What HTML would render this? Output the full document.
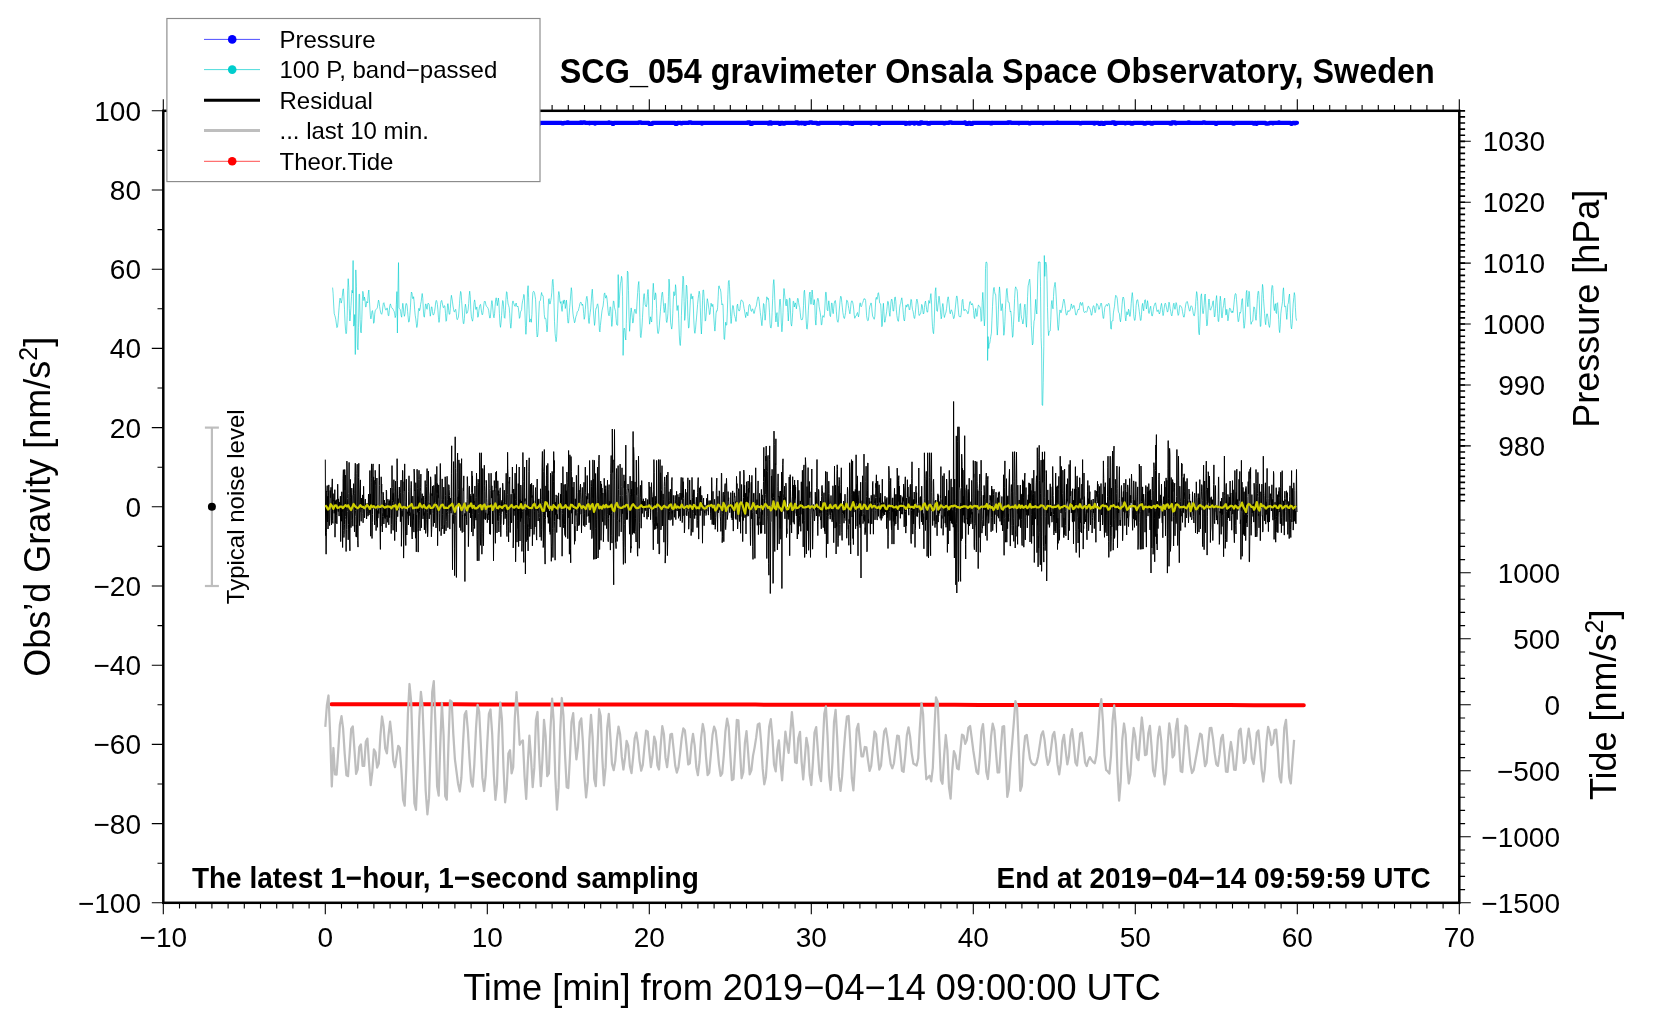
<!DOCTYPE html>
<html><head><meta charset="utf-8"><title>SCG_054 gravimeter Onsala Space Observatory, Sweden</title>
<style>
html,body{margin:0;padding:0;background:#fff;}
svg{display:block;will-change:transform;}
text{font-family:"Liberation Sans",sans-serif;fill:#000;}
.b{font-weight:bold;}
</style></head><body>
<svg width="1660" height="1020" viewBox="0 0 1660 1020">
<rect width="1660" height="1020" fill="#fff"/>
<polyline fill="none" stroke="#0000ff" stroke-width="4.2" stroke-linecap="round" stroke-linejoin="round" points="325.3,122.8 328.5,122.8 328.8,123.4 329.9,123.4 330.2,122.3 331.5,122.3 331.8,122.8 336.1,122.8 336.4,122.3 337.7,122.3 338,122.8 359.1,122.8 359.3,122.3 361.5,122.3 361.8,122.8 365.5,122.8 365.8,123.9 366.1,123.9 366.3,122.8 366.9,122.8 367.1,123.9 368.5,123.9 368.8,122.8 377.4,122.8 377.7,123.4 379,123.4 379.3,122.8 382.5,122.8 382.8,122.3 384.7,122.3 385,122.8 413.3,122.8 413.6,123.9 415.5,123.9 415.8,122.8 418.2,122.8 418.4,123.9 420.3,123.9 420.6,122.8 430.1,122.8 430.3,123.7 432.5,123.7 432.8,122.8 434.4,122.8 434.6,122.3 436,122.3 436.3,122.8 437.6,122.8 437.9,122.3 439.2,122.3 439.5,122.8 449.2,122.8 449.5,123.7 451.4,123.7 451.7,122.8 460.3,122.8 460.6,123.7 461.4,123.7 461.6,122.8 473.8,122.8 474.1,123.4 475.1,123.4 475.4,122.8 477.8,122.8 478.1,123.4 480,123.4 480.3,122.8 504.6,122.8 504.9,122.3 507,122.3 507.3,122.8 509.7,122.8 510,123.4 512.1,123.4 512.4,122.8 517.8,122.8 518.1,123.4 518.6,123.4 518.9,122.8 530.2,122.8 530.5,123.7 532.4,123.7 532.7,122.8 537.5,122.8 537.8,123.9 539.1,123.9 539.4,122.8 561.5,122.8 561.8,123.4 563.7,123.4 564,122.8 566.9,122.8 567.2,122.3 568.3,122.3 568.6,122.8 580.2,122.8 580.5,122.3 581.3,122.3 581.5,122.8 582.9,122.8 583.1,122.3 584.8,122.3 585,122.8 589.1,122.8 589.4,123.4 589.6,123.4 589.9,122.8 594.5,122.8 594.8,123.7 595.3,123.7 595.6,122.8 608.5,122.8 608.8,122.3 609.1,122.3 609.3,122.8 612.3,122.8 612.6,123.9 613.4,123.9 613.7,122.8 638.8,122.8 639,122.3 640.9,122.3 641.2,122.8 649,122.8 649.3,123.9 652.3,123.9 652.5,122.8 675.2,122.8 675.5,123.9 676.8,123.9 677.1,122.8 680.6,122.8 680.9,123.4 682.2,123.4 682.5,122.8 688.7,122.8 689,122.3 690.9,122.3 691.1,122.8 701.4,122.8 701.7,123.7 702.2,123.7 702.5,122.8 747.6,122.8 747.8,122.3 750,122.3 750.3,123.9 752.2,123.9 752.4,122.8 768.4,122.8 768.6,123.7 769.2,123.7 769.5,122.8 769.7,122.3 770.5,122.3 770.8,122.8 771.1,122.8 771.3,123.7 771.6,123.7 771.9,122.8 779.2,122.8 779.4,123.9 780.2,123.9 780.5,122.8 783,122.8 783.2,123.7 784.8,123.7 785.1,122.8 795.6,122.8 795.9,122.3 797.8,122.3 798.1,123.4 799.7,123.4 800,122.8 801.3,122.8 801.6,123.4 801.9,123.4 802.1,122.8 804.5,122.8 804.8,123.9 805.1,123.9 805.4,122.8 809.4,122.8 809.7,122.3 811.8,122.3 812.1,122.8 816.7,122.8 817,123.7 819.4,123.7 819.7,122.8 839.7,122.8 839.9,123.4 841.3,123.4 841.5,122.8 848.8,122.8 849.1,123.4 850.2,123.4 850.5,122.8 851.3,122.8 851.5,123.9 852.6,123.9 852.9,122.8 870.7,122.8 871,123.7 871.2,123.7 871.5,122.8 878.8,122.8 879.1,123.9 879.3,123.9 879.6,122.8 905.3,122.8 905.5,123.9 905.8,123.9 906.1,122.8 906.3,122.8 906.6,123.4 908.2,123.4 908.5,122.8 909.6,122.8 909.8,123.7 910.1,123.7 910.4,122.8 914.2,122.8 914.4,123.7 914.7,123.7 915,122.8 917.7,122.8 918,123.7 920.1,123.7 920.4,122.3 922,122.3 922.3,122.8 927.7,122.8 927.9,123.7 929.6,123.7 929.8,122.8 943.3,122.8 943.6,123.4 945,123.4 945.2,122.8 949,122.8 949.3,122.3 951.4,122.3 951.7,122.8 964.4,122.8 964.7,122.3 965.2,122.3 965.5,122.8 966,122.8 966.3,123.9 968.2,123.9 968.4,122.8 970.1,122.8 970.3,123.9 972.2,123.9 972.5,122.8 990,122.8 990.3,123.4 991.1,123.4 991.4,122.8 991.7,122.8 991.9,123.4 992.2,123.4 992.5,122.8 1007.6,122.8 1007.9,122.3 1008.4,122.3 1008.7,122.8 1008.9,122.8 1009.2,122.3 1010.6,122.3 1010.8,122.8 1018.4,122.8 1018.7,123.4 1019.2,123.4 1019.5,122.8 1028.6,122.8 1028.9,123.4 1030.5,123.4 1030.8,122.8 1042.4,122.8 1042.7,123.4 1043.5,123.4 1043.8,122.8 1057,122.8 1057.3,122.3 1057.5,122.3 1057.8,122.8 1079.4,122.8 1079.7,123.4 1081.3,123.4 1081.6,122.8 1093.7,122.8 1094,123.7 1094.3,123.7 1094.5,122.8 1098.6,122.8 1098.8,123.4 1099.1,123.9 1100.2,123.9 1100.5,122.8 1102.4,122.8 1102.6,123.9 1104.2,123.9 1104.5,122.8 1112.1,122.8 1112.3,122.3 1114.5,122.3 1114.8,123.9 1115.9,123.9 1116.1,122.8 1124.5,122.8 1124.8,123.4 1125.8,123.4 1126.1,122.8 1131,122.8 1131.2,123.7 1133.1,123.7 1133.4,122.8 1143.4,122.8 1143.7,123.7 1145.8,123.7 1146.1,122.8 1151,122.8 1151.2,123.7 1152.8,123.7 1153.1,122.8 1169.6,122.8 1169.9,123.7 1171.8,123.7 1172,122.3 1172.3,122.8 1172.8,122.8 1173.1,122.3 1175.3,122.3 1175.5,123.4 1176.3,123.4 1176.6,122.8 1187.9,122.8 1188.2,122.3 1189.3,122.3 1189.6,122.8 1203.1,122.8 1203.3,122.3 1204.7,122.3 1205,122.8 1215.5,122.8 1215.8,123.9 1216.6,123.9 1216.8,122.8 1232.5,122.8 1232.8,123.7 1234.4,123.7 1234.7,122.8 1253,122.8 1253.3,123.7 1254.6,123.7 1254.9,122.8 1255.7,122.8 1256,123.4 1256.3,123.9 1256.8,123.9 1257.1,123.4 1257.3,122.8 1265.4,122.8 1265.7,123.7 1267.6,123.7 1267.9,123.4 1269.5,123.4 1269.8,122.8 1272.2,122.8 1272.5,123.4 1273.3,123.4 1273.5,122.8 1278.4,122.8 1278.7,122.3 1279.2,122.3 1279.5,122.8 1290.3,122.8 1290.5,123.4 1290.8,123.4 1291.1,123.9 1291.9,123.9 1292.2,123.4 1292.7,123.4 1293,122.8 1294.3,122.8 1294.6,123.4 1295.4,123.4 1295.7,122.8 1297,122.8"/>
<polyline fill="none" stroke="#00cdcd" stroke-width="0.6" stroke-linejoin="round" points="332.6,287.6 333.1,293.2 333.7,305 334.2,313.4 334.8,315.5 335.3,317.1 335.8,319.7 336.4,324 336.9,327.6 337.5,326.9 338,322.1 338.5,315.2 339.1,307.4 339.6,300.3 340.1,298.1 340.7,300.3 341.2,303.1 341.8,300.5 342.3,296.2 342.9,290 343.4,288.8 343.9,296.9 344.5,309.3 345,321.9 345.6,330.7 346.1,333.7 346.6,331.6 347.2,315.4 347.7,290.8 348.2,278.7 348.8,287.7 349.3,308.4 349.9,321 350.4,315.2 351,305.6 351.5,296.3 352,290.3 352.6,293 353.1,260.5 353.6,326.1 354.2,325 354.7,314.5 355.3,354.5 355.8,269.9 356.4,286.6 356.9,323.6 357.4,347.5 358,349.8 358.5,327.3 359.1,294.1 359.6,294.3 360.1,319.3 360.7,332 361.2,332.9 361.8,319.7 362.3,301.4 362.8,291.3 363.4,294.2 363.9,300.6 364.4,297 365,299.5 365.5,306.8 366.1,306.9 366.6,301.6 367.1,301.9 367.7,302.9 368.2,294 368.8,290 369.3,298 369.9,308.1 370.4,315.9 370.9,318.9 371.5,315.7 372,311.3 372.5,310.6 373.1,314.9 373.6,323.3 374.2,322.1 374.7,314.2 375.2,310.8 375.8,309.7 376.3,309.2 376.9,308.5 377.4,307.5 377.9,303.9 378.5,300.1 379,301.7 379.6,306.4 380.1,309.7 380.6,312 381.2,313.8 381.7,314.3 382.3,312.2 382.8,307 383.4,303.2 383.9,302.7 384.4,304.8 385,307.8 385.5,309.7 386.1,310.2 386.6,309 387.1,307.9 387.7,310.4 388.2,315.4 388.8,315.8 389.3,310.4 389.8,305.7 390.4,303.9 390.9,305.5 391.4,307.6 392,308.3 392.5,308.3 393.1,309.3 393.6,310.5 394.1,311.2 394.7,313.9 395.2,317.6 395.8,315.4 396.3,304.4 396.9,291.6 397.4,333 397.9,295 398.5,262.6 399,307.7 399.5,308.7 400.1,309.3 400.6,311.4 401.2,315.8 401.7,317.2 402.2,309.7 402.8,303.3 403.3,306.9 403.9,313.6 404.4,316.3 405,313.8 405.5,307 406,303.4 406.6,303.8 407.1,305.8 407.6,311.4 408.2,317.9 408.7,322.2 409.3,321.2 409.8,315.5 410.4,307.9 410.9,298.4 411.4,292 412,293.1 412.5,298.3 413.1,298.8 413.6,296.7 414.1,301.4 414.7,309.8 415.2,315.2 415.8,319 416.3,323.7 416.8,327.5 417.4,325 417.9,317.3 418.4,310.5 419,308.2 419.5,310.8 420.1,308.7 420.6,304.5 421.2,301.5 421.7,297.1 422.2,293.5 422.8,298.3 423.3,308.9 423.8,316.1 424.4,317.2 424.9,311.2 425.5,304.1 426,303.9 426.6,308.3 427.1,309.3 427.6,305 428.2,303.1 428.7,303.9 429.2,304.6 429.8,311.7 430.3,316.2 430.9,312 431.4,307 431.9,306.8 432.5,311.6 433,314.9 433.6,314.8 434.1,313.7 434.6,311.3 435.2,307.1 435.7,302.2 436.3,300.4 436.8,301.4 437.4,304.5 437.9,309.8 438.4,317.2 439,322.4 439.5,319.6 440,310.4 440.6,304.2 441.1,301.1 441.7,300.4 442.2,302.5 442.8,305.8 443.3,307.7 443.8,307.5 444.4,305.6 444.9,306.5 445.5,313.5 446,321.3 446.5,320.6 447.1,312.8 447.6,303.9 448.1,303.6 448.7,310.2 449.2,314.3 449.8,314.1 450.3,308.7 450.9,299.5 451.4,295.3 451.9,298.1 452.5,301.9 453,306 453.6,309.4 454.1,311.8 454.6,311.8 455.2,310.2 455.7,309.3 456.3,313.3 456.8,318.7 457.3,319.7 457.9,318.3 458.4,317.1 458.9,312 459.5,303.7 460,296.6 460.6,291.4 461.1,292.9 461.6,300.4 462.2,309 462.7,317 463.3,323.4 463.8,323.8 464.4,318.7 464.9,308.5 465.4,304.2 466,307.5 466.5,313.4 467.1,313.2 467.6,311.9 468.1,309.8 468.7,303.5 469.2,295.6 469.7,291.2 470.3,296.7 470.8,309.5 471.4,316.9 471.9,319.1 472.5,321.2 473,318.8 473.5,310.2 474.1,302.6 474.6,299.9 475.1,302.5 475.7,309.3 476.2,309.4 476.8,306.9 477.3,311.4 477.8,317.3 478.4,316 478.9,310.5 479.5,306.8 480,304.8 480.6,304.4 481.1,308.3 481.6,312.5 482.2,314.9 482.7,314.3 483.2,310.6 483.8,305 484.3,301.6 484.9,301 485.4,302 485.9,304.9 486.5,306.4 487,306.9 487.6,307.4 488.1,308.5 488.7,310.7 489.2,314.7 489.7,318 490.3,317.8 490.8,312.1 491.4,304.2 491.9,300.6 492.4,303.3 493,310.9 493.5,316.4 494,317.8 494.6,313.7 495.1,306.2 495.7,299.5 496.2,297.8 496.8,301.6 497.3,305.7 497.8,302.1 498.4,298 498.9,302.5 499.4,313.7 500,324.4 500.5,327.3 501.1,322.2 501.6,315.6 502.1,306.7 502.7,300.5 503.2,301.7 503.8,309.7 504.3,317.5 504.9,318.3 505.4,310.5 505.9,299.6 506.5,291.7 507,292.5 507.6,299.6 508.1,304 508.6,305.4 509.2,307.6 509.7,313.6 510.2,322.4 510.8,328.2 511.3,324.3 511.9,312.9 512.4,303.1 513,300.9 513.5,302.9 514,304 514.6,305.9 515.1,306.4 515.6,304.3 516.2,303 516.7,306.1 517.3,306.8 517.8,306 518.3,307.7 518.9,312.8 519.4,318.4 520,317 520.5,311.9 521,311.1 521.6,309.7 522.1,304.1 522.7,300.5 523.2,298.8 523.8,294.4 524.3,295.6 524.8,309 525.4,325.3 525.9,334.3 526.4,327.4 527,309.4 527.5,290.9 528.1,285.7 528.6,297.5 529.2,313.3 529.7,322.1 530.2,319.6 530.8,319 531.3,322.3 531.9,314.6 532.4,300 532.9,292.5 533.5,291.4 534,291.5 534.5,292.8 535.1,296.3 535.6,299.5 536.2,314.1 536.7,331.7 537.2,337 537.8,335 538.3,327.1 538.9,311.9 539.4,301.5 540,300.8 540.5,300.2 541,295.7 541.6,292.5 542.1,295.4 542.6,295.2 543.2,296 543.7,304.5 544.3,314.7 544.8,318.8 545.4,318.3 545.9,318.6 546.4,324.8 547,331.9 547.5,328 548,311 548.6,299.1 549.1,298.6 549.7,303.9 550.2,303.9 550.8,300.4 551.3,297.4 551.8,292.2 552.4,281.2 552.9,279.3 553.5,287.3 554,302.7 554.5,321.7 555.1,333.5 555.6,338.2 556.1,341.7 556.7,336.7 557.2,323.8 557.8,308.9 558.3,295.6 558.8,291.5 559.4,294.3 559.9,301.4 560.5,303.3 561,301.5 561.5,308 562.1,311.4 562.6,305.3 563.2,300.6 563.7,303.6 564.2,299.9 564.8,301.4 565.3,308.5 565.9,305.1 566.4,300.1 566.9,305.1 567.5,317.5 568,323.1 568.6,322.8 569.1,315.3 569.7,307.3 570.2,301.8 570.7,295 571.3,287.7 571.8,291.3 572.3,304.9 572.9,313 573.4,316.9 574,319.9 574.5,322.8 575,321.7 575.6,318 576.1,316.1 576.7,314.8 577.2,311.8 577.8,311.4 578.3,310.8 578.8,308.5 579.4,306.4 579.9,303.8 580.5,302.4 581,302.2 581.5,303.5 582.1,305.4 582.6,304.1 583.1,306.3 583.7,313.6 584.2,319.3 584.8,316.8 585.3,309.7 585.8,303 586.4,297.8 586.9,296.3 587.5,300 588,309.3 588.5,320.1 589.1,323.5 589.6,317.6 590.2,312.5 590.7,308.8 591.2,302.2 591.8,293.2 592.3,289.2 592.9,298.9 593.4,311 594,319.1 594.5,325.4 595,321.9 595.6,310.8 596.1,308 596.6,308 597.2,304.7 597.7,303.8 598.3,307.1 598.8,317 599.4,330.3 599.9,331.9 600.4,325.5 601,319.8 601.5,315 602,310.8 602.6,308 603.1,306 603.7,300.4 604.2,293.9 604.8,292.9 605.3,296.8 605.8,298.2 606.4,295.5 606.9,297.8 607.5,304.1 608,310.2 608.5,314.5 609.1,315.8 609.6,312.4 610.1,306.8 610.7,307.3 611.2,316.5 611.8,326.4 612.3,322.4 612.8,308.4 613.4,300.9 613.9,301.6 614.5,307.6 615,309.3 615.5,311.4 616.1,318.6 616.6,324.5 617.2,325.3 617.7,325.2 618.2,274.6 618.8,307.6 619.3,300.5 619.9,291.2 620.4,283.8 621,281.1 621.5,276.3 622,278.6 622.6,296.7 623.1,355.4 623.7,330.5 624.2,328.1 624.7,329 625.3,337.2 625.8,340 626.3,323.5 626.9,295.1 627.4,271.1 628,272.4 628.5,290.6 629,316.2 629.6,331.3 630.1,323.6 630.7,312.1 631.2,307.9 631.8,312.8 632.3,317.6 632.8,323.1 633.4,320.9 633.9,313.7 634.5,310 635,309.1 635.5,311.7 636.1,313.6 636.6,310.1 637.1,301.2 637.7,292.4 638.2,285.3 638.8,281.5 639.3,292.5 639.9,317.3 640.4,335.6 640.9,337.6 641.5,332.1 642,326 642.5,317.3 643.1,306.5 643.6,296.5 644.2,293.6 644.7,299.1 645.2,304.6 645.8,306.3 646.3,306.9 646.9,303.9 647.4,294.7 648,289.5 648.5,296.8 649,315.4 649.6,324.2 650.1,320.7 650.6,316.8 651.2,320.6 651.7,322 652.3,310.3 652.8,291.1 653.3,283.3 653.9,292.7 654.4,299.8 655,298.5 655.5,292.8 656,295 656.6,308.4 657.1,324.6 657.7,332.9 658.2,333.6 658.8,331.1 659.3,325.9 659.8,318.8 660.4,311.4 660.9,304.6 661.5,297.3 662,292.9 662.5,292.1 663.1,298.9 663.6,306.4 664.2,312.5 664.7,310.3 665.2,303.3 665.8,310.6 666.3,320.6 666.8,322.5 667.4,319.2 667.9,313.6 668.5,296.3 669,279.1 669.5,285 670.1,307.5 670.6,322.2 671.2,326.5 671.7,329.1 672.2,325.7 672.8,313.3 673.3,299.9 673.9,291.7 674.4,295.6 675,295.1 675.5,284.7 676,288.7 676.6,304 677.1,310.5 677.7,305.8 678.2,305.4 678.7,318.2 679.3,335 679.8,343.4 680.3,345.5 680.9,335.6 681.4,315.4 682,298.7 682.5,286.9 683,276.1 683.6,279.1 684.1,301.6 684.7,320.4 685.2,316.4 685.8,300.1 686.3,285.1 686.8,286 687.4,299.4 687.9,316.6 688.5,328 689,327.7 689.5,317.9 690.1,305.9 690.6,296.8 691.1,293.7 691.7,298.7 692.2,298.9 692.8,296.2 693.3,305 693.8,320.1 694.4,330.9 694.9,333.3 695.5,329.3 696,322.9 696.5,317.9 697.1,310.8 697.6,304.3 698.2,298.6 698.7,294.4 699.2,291.2 699.8,294.2 700.3,307.7 700.9,325.9 701.4,334 702,321.6 702.5,300.8 703,290 703.6,290.1 704.1,297.7 704.7,311.2 705.2,321.1 705.7,320.3 706.3,312.9 706.8,303.6 707.3,298.7 707.9,301.7 708.4,305.1 709,309.6 709.5,314.6 710,314.1 710.6,307.6 711.1,303.2 711.7,306 712.2,306.6 712.8,304.3 713.3,307.9 713.8,317 714.4,326.2 714.9,331.1 715.4,325.2 716,313.6 716.5,310.9 717.1,311.1 717.6,307.8 718.2,296.6 718.7,286.2 719.2,285.8 719.8,288.7 720.3,288.9 720.9,292.1 721.4,299.3 721.9,304.9 722.5,303.8 723,304.9 723.5,321.1 724.1,338.9 724.6,339.5 725.2,328.6 725.7,322.2 726.2,325.2 726.8,324.9 727.3,313.1 727.9,294.2 728.4,282.2 729,280.4 729.5,286.4 730,299.8 730.6,316.3 731.1,323.5 731.6,318.4 732.2,310.3 732.7,305.5 733.3,305.8 733.8,310.2 734.3,314.3 734.9,316.5 735.4,318.4 736,321.5 736.5,316.2 737,305.9 737.6,304.1 738.1,308.4 738.7,310.5 739.2,311.1 739.8,309.9 740.3,305.5 740.8,301 741.4,299.8 741.9,300.7 742.5,301.2 743,301.5 743.5,304.8 744.1,308.5 744.6,311 745.2,314.8 745.7,317.6 746.2,314.3 746.8,312.1 747.3,314.4 747.8,315.8 748.4,310.8 748.9,305.7 749.5,304.4 750,305 750.5,307.7 751.1,311 751.6,311.4 752.2,309.2 752.7,308.9 753.2,310.7 753.8,313.4 754.3,313.3 754.9,309.8 755.4,307.7 755.9,307.2 756.5,304.8 757,301.4 757.6,298.2 758.1,296.8 758.7,298 759.2,301.6 759.7,306.8 760.3,312.6 760.8,316.4 761.4,322.1 761.9,325.7 762.4,320.2 763,311.1 763.5,303.5 764,304.5 764.6,313.5 765.1,320.2 765.7,314 766.2,303.6 766.8,296.8 767.3,298 767.8,299.4 768.4,298.4 768.9,302.5 769.5,312.8 770,323.3 770.5,327.5 771.1,328.1 771.6,324.2 772.1,312.6 772.7,298.4 773.2,285 773.8,279.6 774.3,285.9 774.8,300.2 775.4,315.2 775.9,321.9 776.5,315.2 777,312.6 777.5,322.5 778.1,326.8 778.6,321.8 779.2,309.9 779.7,300 780.2,299.1 780.8,307.1 781.3,322.9 781.9,331.8 782.4,326.2 783,312.7 783.5,296.1 784,288.5 784.6,293.9 785.1,298.8 785.7,304.2 786.2,305.9 786.7,299.2 787.3,300.4 787.8,312.5 788.3,321 788.9,310.9 789.4,298.2 790,298.4 790.5,310.9 791,323.7 791.6,326.1 792.1,321.4 792.7,312.4 793.2,301.2 793.8,301.6 794.3,307 794.8,304.4 795.4,302.9 795.9,305.8 796.4,308.8 797,304 797.5,298.5 798.1,298.5 798.6,302.5 799.2,306.1 799.7,307.5 800.2,312.3 800.8,318.2 801.3,319.9 801.9,319.4 802.4,319.5 802.9,316.9 803.5,305.7 804,292.1 804.5,290.2 805.1,298.1 805.6,309 806.2,320.6 806.7,328.6 807.2,329.2 807.8,322.1 808.3,310.8 808.9,302.1 809.4,294.2 810,292 810.5,299.6 811,304.3 811.6,297.8 812.1,290 812.6,294.3 813.2,304.3 813.7,305 814.3,299.6 814.8,304.5 815.3,319.7 815.9,325.1 816.4,315.6 817,302.4 817.5,298.7 818,298.2 818.6,301.1 819.1,306.4 819.7,309.9 820.2,312.5 820.8,317.3 821.3,324.9 821.8,324.7 822.4,318.4 822.9,315.6 823.5,316.8 824,317.3 824.5,313.8 825.1,303 825.6,292.3 826.2,292.3 826.7,301.2 827.2,309.6 827.8,310.8 828.3,305 828.8,300.8 829.4,305.8 829.9,315.3 830.5,316.6 831,310.8 831.5,303.1 832.1,303.2 832.6,310.9 833.2,313.7 833.7,308.3 834.2,303.4 834.8,301 835.3,300.5 835.9,304.3 836.4,311.8 836.9,318.6 837.5,321.7 838,322.3 838.6,319.3 839.1,312.1 839.7,305.1 840.2,299.3 840.7,296.2 841.3,297.1 841.8,302.5 842.4,307.9 842.9,312.5 843.4,315.5 844,318.3 844.5,318.4 845,315.7 845.6,312.4 846.1,306 846.7,300.2 847.2,300.5 847.8,302.1 848.3,305.5 848.8,308.4 849.4,311.5 849.9,313.8 850.5,309.4 851,303.5 851.5,301.1 852.1,300.8 852.6,301.9 853.2,304.9 853.7,309 854.2,314.9 854.8,318.3 855.3,316.9 855.8,315.8 856.4,315.6 856.9,313.7 857.5,312.5 858,315 858.5,316.9 859.1,313.3 859.6,305 860.2,302.8 860.7,306 861.2,306.8 861.8,305.5 862.3,303.2 862.9,302.3 863.4,300.5 864,298.6 864.5,299 865,298.8 865.6,300.5 866.1,307.9 866.6,315.8 867.2,319.4 867.7,320.7 868.3,320.4 868.8,316.3 869.3,309.8 869.9,305.9 870.4,305 871,302.9 871.5,304.2 872,311 872.6,316 873.1,317 873.7,318.4 874.2,319.3 874.8,316.7 875.3,307.9 875.8,298.8 876.4,297.3 876.9,299.4 877.5,297.7 878,293.3 878.5,292.7 879.1,296.7 879.6,303 880.2,303.6 880.7,304 881.2,313.5 881.8,326.7 882.3,325.5 882.8,310.9 883.4,303.3 883.9,311.6 884.5,322 885,322.3 885.5,318.6 886.1,315.1 886.6,311.8 887.2,306.3 887.7,301.4 888.2,301.6 888.8,305.8 889.3,312.6 889.9,316.3 890.4,310.6 891,301.8 891.5,299.1 892,299.7 892.6,304.9 893.1,311.1 893.7,310.9 894.2,304.6 894.7,297.7 895.3,296.9 895.8,301.4 896.3,309.2 896.9,315.6 897.4,318.8 898,321.2 898.5,321.2 899,315.5 899.6,308.1 900.1,304.7 900.7,303.4 901.2,300.2 901.8,297.8 902.3,301.2 902.8,307.3 903.4,314.7 903.9,319.7 904.5,321 905,316.8 905.5,307.7 906.1,304.9 906.6,307.2 907.1,306.3 907.7,304.3 908.2,304.3 908.8,307.2 909.3,310 909.8,309.5 910.4,305 910.9,299.3 911.5,299.8 912,305.7 912.5,309.6 913.1,311.4 913.6,314.8 914.2,318.2 914.7,318.5 915.2,314.5 915.8,307.7 916.3,301.7 916.9,299.1 917.4,300.7 918,304.7 918.5,310.6 919,315.5 919.6,315.2 920.1,313.9 920.7,313.5 921.2,309.3 921.7,304.4 922.3,305.6 922.8,310.4 923.3,314 923.9,313.1 924.4,307.5 925,302.6 925.5,301.1 926,304.4 926.6,309.4 927.1,312.2 927.7,312 928.2,306.9 928.8,300.5 929.3,301.6 929.8,303.3 930.4,297 930.9,293.6 931.5,302.1 932,317.4 932.5,326.5 933.1,332.2 933.6,333.7 934.2,323.6 934.7,306.9 935.2,291.5 935.8,287.7 936.3,298.4 936.8,310.7 937.4,311.4 937.9,306 938.5,300.8 939,296.2 939.5,299.1 940.1,306.1 940.6,312.9 941.2,318.8 941.7,316.7 942.2,307.7 942.8,303.5 943.3,306.4 943.9,314.5 944.4,317.5 945,315.1 945.5,313.6 946,312.1 946.6,308.3 947.1,303.4 947.6,298.6 948.2,296.8 948.7,299.7 949.3,306 949.8,312.1 950.3,313.8 950.9,310.9 951.4,309.8 952,311.3 952.5,313 953,315.8 953.6,318.7 954.1,318.1 954.7,314.2 955.2,309.2 955.8,303 956.3,297.8 956.8,295.9 957.4,298.2 957.9,304.8 958.5,312.2 959,316.2 959.5,316.7 960.1,316.5 960.6,317.1 961.1,314.4 961.7,307.1 962.2,300.3 962.8,299.3 963.3,304.6 963.8,310.5 964.4,310.6 964.9,309.2 965.5,309.8 966,310 966.5,311 967.1,311.7 967.6,313.6 968.2,313.5 968.7,310.7 969.2,306 969.8,301.8 970.3,301.4 970.9,303.3 971.4,305 972,303.5 972.5,303.8 973,305.9 973.6,310.4 974.1,317.1 974.7,318.6 975.2,312.1 975.7,308.5 976.3,312.5 976.8,316.5 977.3,314.7 977.9,307.8 978.4,305.1 979,305.6 979.5,306.3 980,307 980.6,310.1 981.1,321.4 981.7,320.7 982.2,302.5 982.8,292.4 983.3,301 983.8,316.2 984.4,325.9 984.9,318.7 985.5,268.6 986,262 986.5,262 987.1,263.7 987.6,360.5 988.1,336.6 988.7,348.5 989.2,344.1 989.8,343.2 990.3,339.5 990.8,336.4 991.4,333.2 991.9,320.7 992.5,306.4 993,296.2 993.5,289 994.1,287.4 994.6,291.6 995.2,294.3 995.7,294.4 996.2,305.3 996.8,326.1 997.3,335.1 997.9,325.7 998.4,309.8 999,293.5 999.5,286.9 1000,293.2 1000.6,304 1001.1,310.7 1001.6,308.1 1002.2,303.7 1002.7,308.8 1003.3,324.1 1003.8,335.3 1004.3,332.3 1004.9,321.7 1005.4,309.4 1006,298.4 1006.5,289.8 1007,288.4 1007.6,295.9 1008.1,302.1 1008.7,302.1 1009.2,302.8 1009.8,309 1010.3,312 1010.8,311.2 1011.4,316.8 1011.9,327.3 1012.5,337.3 1013,335.8 1013.5,324.2 1014.1,311.5 1014.6,298.4 1015.2,288.8 1015.7,286.8 1016.2,288.3 1016.8,289.1 1017.3,291.5 1017.8,302.8 1018.4,316.1 1018.9,321.8 1019.5,315.8 1020,304.2 1020.5,303.6 1021.1,314.3 1021.6,318.5 1022.2,320.2 1022.7,324 1023.2,323.4 1023.8,316.9 1024.3,307.4 1024.9,304.2 1025.4,309.8 1026,323.1 1026.5,327.2 1027,315.3 1027.6,296.3 1028.1,285.9 1028.6,283.9 1029.2,280.8 1029.7,279.2 1030.3,288 1030.8,307.2 1031.3,325.3 1031.9,337.1 1032.4,345 1033,343.3 1033.5,329.9 1034,321.3 1034.6,319 1035.1,308.9 1035.7,299.4 1036.2,309.4 1036.8,314 1037.3,297.2 1037.8,273.9 1038.4,262 1038.9,262 1039.5,262 1040,262 1040.5,286.7 1041.1,337.6 1041.6,350 1042.1,405 1042.7,405.5 1043.2,382.4 1043.8,346.7 1044.3,255.5 1044.8,276.4 1045.4,262.7 1045.9,262 1046.5,264.9 1047,280.6 1047.5,307.4 1048.1,328.8 1048.6,335.6 1049.2,331.4 1049.7,331.3 1050.2,330.9 1050.8,319.3 1051.3,304.7 1051.9,300.5 1052.4,306.1 1053,308.8 1053.5,296.4 1054,288.5 1054.6,284.7 1055.1,282.4 1055.7,287.9 1056.2,296.9 1056.7,306.4 1057.3,316.9 1057.8,327 1058.3,330.4 1058.9,324.6 1059.4,315 1060,309.9 1060.5,311.6 1061,312.8 1061.6,311.1 1062.1,308.6 1062.7,305.1 1063.2,301.6 1063.8,299.1 1064.3,300.3 1064.8,303.8 1065.4,308.5 1065.9,313 1066.5,315.2 1067,314.6 1067.5,311.7 1068.1,310.5 1068.6,311.7 1069.1,311.2 1069.7,310.9 1070.2,310 1070.8,307.1 1071.3,303.9 1071.8,305.3 1072.4,308.5 1072.9,307.9 1073.5,305.7 1074,305.3 1074.5,307.3 1075.1,310.9 1075.6,314.7 1076.2,315.1 1076.7,313.8 1077.2,312.3 1077.8,309.9 1078.3,309.1 1078.9,309.9 1079.4,307.5 1080,303.5 1080.5,302.3 1081,304.3 1081.6,305.4 1082.1,303.1 1082.6,302.5 1083.2,306.9 1083.7,311.2 1084.3,312.4 1084.8,312.5 1085.3,311.6 1085.9,311.7 1086.4,312.3 1087,311.4 1087.5,309.2 1088,306.4 1088.6,306.3 1089.1,307.8 1089.7,308.1 1090.2,309.5 1090.8,312.4 1091.3,315.2 1091.8,315.1 1092.4,310.8 1092.9,307.2 1093.5,305.7 1094,306.1 1094.5,309.5 1095.1,312.7 1095.6,311.5 1096.2,306.6 1096.7,303.5 1097.2,304.1 1097.8,305.1 1098.3,307.1 1098.8,309.5 1099.4,309.1 1099.9,306.8 1100.5,304.8 1101,303 1101.5,303.7 1102.1,308.1 1102.6,313.9 1103.2,318.3 1103.7,318.4 1104.2,312.8 1104.8,307.5 1105.3,306.1 1105.9,305.7 1106.4,304.5 1107,305.7 1107.5,306 1108,304.1 1108.6,303.3 1109.1,303.8 1109.6,306.9 1110.2,316.3 1110.7,328.1 1111.3,329.2 1111.8,321.4 1112.3,320.9 1112.9,321 1113.4,312.9 1114,309.1 1114.5,306.3 1115,300.3 1115.6,295.5 1116.1,295.5 1116.7,296.7 1117.2,298.3 1117.8,305 1118.3,311.1 1118.8,312.6 1119.4,313.7 1119.9,319.2 1120.5,321.8 1121,317.8 1121.5,312.1 1122.1,304.4 1122.6,298.7 1123.1,297 1123.7,297.9 1124.2,301 1124.8,309.3 1125.3,317.7 1125.8,320.9 1126.4,315.8 1126.9,311.7 1127.5,314.5 1128,314.5 1128.5,309.2 1129.1,311 1129.6,316.2 1130.2,316.3 1130.7,311.1 1131.2,303.5 1131.8,296.2 1132.3,292.6 1132.9,298.3 1133.4,308.8 1133.9,316.8 1134.5,320.3 1135,320.3 1135.6,314.8 1136.1,305.7 1136.7,301 1137.2,299.9 1137.7,299.7 1138.3,303.7 1138.8,307.6 1139.3,311.3 1139.9,316 1140.4,320.3 1141,320.4 1141.5,314.3 1142,306.1 1142.6,303.4 1143.1,308.3 1143.7,310.8 1144.2,304.5 1144.8,300.1 1145.3,299.7 1145.8,303.7 1146.4,308.9 1146.9,306.2 1147.5,300.7 1148,303.5 1148.5,312.3 1149.1,313.5 1149.6,310.8 1150.1,308 1150.7,306.2 1151.2,311.1 1151.8,315.6 1152.3,316.1 1152.8,313.7 1153.4,309.3 1153.9,306.4 1154.5,304.8 1155,303.4 1155.5,302.8 1156.1,306 1156.6,309.8 1157.2,311.6 1157.7,310.4 1158.2,309.8 1158.8,312 1159.3,314 1159.9,312.9 1160.4,309.5 1161,305.5 1161.5,303.4 1162,306.4 1162.6,312.4 1163.1,315.6 1163.6,313.4 1164.2,308.3 1164.7,304.4 1165.3,303.2 1165.8,304.5 1166.3,307.1 1166.9,309.7 1167.4,312.1 1168,311.1 1168.5,305.9 1169,302.2 1169.6,304.3 1170.1,308.3 1170.7,311.3 1171.2,314.4 1171.8,315.9 1172.3,313.7 1172.8,309.6 1173.4,304.6 1173.9,303.2 1174.4,306.9 1175,309.3 1175.5,306.3 1176.1,302.6 1176.6,303.7 1177.2,308.5 1177.7,313 1178.2,315.4 1178.8,314.1 1179.3,308.9 1179.8,305.4 1180.4,305.7 1180.9,306.3 1181.5,307 1182,308.6 1182.5,311.7 1183.1,314.9 1183.6,317 1184.2,317.1 1184.7,313.7 1185.2,308.3 1185.8,304.2 1186.3,302.4 1186.9,301.5 1187.4,301.7 1187.9,304 1188.5,306.8 1189,309.1 1189.6,311.2 1190.1,310.5 1190.6,306.9 1191.2,305.7 1191.7,306.2 1192.3,307.7 1192.8,310.4 1193.3,313.8 1193.9,315.8 1194.4,315.7 1195,311.8 1195.5,306.6 1196,298.4 1196.6,291.6 1197.1,293.7 1197.7,301.4 1198.2,315.7 1198.7,332 1199.3,334.8 1199.8,326.3 1200.4,311 1200.9,296.2 1201.5,293.8 1202,302 1202.5,310.8 1203.1,313.7 1203.6,310.7 1204.1,305.6 1204.7,295.7 1205.2,294 1205.8,304.6 1206.3,318.1 1206.8,325.9 1207.4,324.5 1207.9,314.1 1208.5,302.6 1209,299 1209.5,304.2 1210.1,309.7 1210.6,310.2 1211.2,308.4 1211.7,307.2 1212.2,305.7 1212.8,301.7 1213.3,300.8 1213.9,309 1214.4,317 1214.9,316.3 1215.5,308.4 1216,300 1216.6,295.6 1217.1,302.2 1217.7,313.7 1218.2,321.3 1218.7,321.6 1219.3,313.2 1219.8,301.9 1220.3,296.2 1220.9,301.5 1221.4,314 1222,317.9 1222.5,314.5 1223,308.3 1223.6,305.3 1224.1,300.4 1224.7,298.1 1225.2,305.7 1225.8,315.1 1226.3,314.5 1226.8,309.3 1227.4,314.7 1227.9,320.8 1228.4,318.2 1229,311.7 1229.5,308.3 1230.1,308.3 1230.6,308.9 1231.1,312 1231.7,312.6 1232.2,310.9 1232.8,312.7 1233.3,310.7 1233.9,304.2 1234.4,299.2 1234.9,295 1235.5,293.5 1236,294 1236.5,299.5 1237.1,307 1237.6,315.9 1238.2,321.8 1238.7,321.3 1239.2,317 1239.8,312.4 1240.3,313.2 1240.9,311.5 1241.4,305.1 1242,298.9 1242.5,298.7 1243,309.3 1243.6,323.5 1244.1,328.3 1244.6,325.5 1245.2,317.9 1245.7,304.9 1246.3,292.2 1246.8,290.4 1247.3,301.8 1247.9,306.7 1248.4,299.2 1249,291.3 1249.5,293.4 1250,307.4 1250.6,320.5 1251.1,324.3 1251.7,322 1252.2,321.4 1252.8,321.1 1253.3,312.9 1253.8,306.9 1254.4,307.3 1254.9,309.6 1255.4,316.2 1256,320.3 1256.5,314.5 1257.1,303.7 1257.6,295.3 1258.2,291.2 1258.7,291.5 1259.2,299.7 1259.8,315.3 1260.3,326.5 1260.8,326.2 1261.4,313 1261.9,294.6 1262.5,284.4 1263,287.8 1263.5,298.5 1264.1,306.9 1264.6,313.5 1265.2,321.9 1265.7,324.7 1266.2,318.1 1266.8,313.9 1267.3,313.9 1267.9,317.2 1268.4,321.9 1268.9,325.5 1269.5,327.4 1270,324 1270.6,314 1271.1,300 1271.6,289 1272.2,285.4 1272.7,286.1 1273.3,295.7 1273.8,306.9 1274.4,310.6 1274.9,305.7 1275.4,303.7 1276,312.8 1276.5,313.5 1277,303.3 1277.6,302.7 1278.1,310.6 1278.7,319.4 1279.2,329.7 1279.7,332.6 1280.3,324.8 1280.8,313.9 1281.4,308.8 1281.9,305.8 1282.5,301.6 1283,291.4 1283.5,287.8 1284.1,298 1284.6,306.7 1285.1,306.5 1285.7,305.9 1286.2,312.9 1286.8,319.4 1287.3,312.6 1287.8,304.4 1288.4,302.9 1288.9,297.1 1289.5,294 1290,304.2 1290.5,318.3 1291.1,327.3 1291.6,328.9 1292.2,323.3 1292.7,312.7 1293.2,303.8 1293.8,297.5 1294.3,292.6 1294.9,295.7 1295.4,307.6 1295.9,317.4 1296.5,320.3 1297,320.1"/>
<polyline fill="none" stroke="#ff0000" stroke-width="4.0" stroke-linecap="round" stroke-linejoin="round" points="331.5,704.2 356.4,704.2 381.3,704.3 406.3,704.3 431.2,704.3 456.1,704.3 481,704.4 506,704.4 530.9,704.4 555.8,704.4 580.8,704.5 605.7,704.5 630.6,704.5 655.6,704.5 680.5,704.6 705.4,704.6 730.4,704.6 755.3,704.6 780.2,704.7 805.2,704.7 830.1,704.7 855,704.7 879.9,704.8 904.9,704.8 929.8,704.8 954.7,704.8 979.7,704.9 1004.6,704.9 1029.5,704.9 1054.5,705 1079.4,705 1104.3,705 1129.3,705 1154.2,705.1 1179.1,705.1 1204.1,705.1 1229,705.1 1253.9,705.2 1278.8,705.2 1303.8,705.2"/>
<polyline fill="none" stroke="#bebebe" stroke-width="2.25" stroke-linejoin="round" points="325.3,726.9 326.9,705.2 328.5,695.5 330.2,735.3 331.8,786.5 333.4,748 335,774.5 336.6,774.6 338.3,750.1 339.9,724.6 341.5,716.2 343.1,728.5 344.7,753.6 346.4,775.2 348,776.1 349.6,753.8 351.2,728.8 352.8,726.5 354.5,750.4 356.1,774 357.7,769.3 359.3,747.1 360.9,744.4 362.6,765.8 364.2,765.9 365.8,741.7 367.4,738.6 369,762.8 370.7,785.2 372.3,771.8 373.9,749.4 375.5,752.2 377.1,767.6 378.8,763.5 380.4,735.8 382,716.5 383.6,726.1 385.2,748.3 386.9,753.4 388.5,735.3 390.1,721.6 391.7,736 393.3,760.7 395,767.2 396.6,756.3 398.2,745.8 399.8,747.9 401.4,769.9 403.1,799.6 404.7,805.6 406.3,767.7 407.9,713.8 409.5,684 411.2,702.2 412.8,755.4 414.4,803.3 416,809.8 417.6,771 419.3,718.5 420.9,691.9 422.5,706.1 424.1,747.1 425.7,791 427.4,814.4 429,798.4 430.6,746 432.2,692.1 433.8,681.1 435.5,726.3 437.1,786.2 438.7,795.6 440.3,743.9 441.9,703 443.6,735.3 445.2,796 446.8,799.7 448.4,746.2 450,700.3 451.7,701.7 453.3,733.9 454.9,759.2 456.5,771.7 458.1,784 459.8,791.4 461.4,777.5 463,743.8 464.6,714.7 466.2,711.1 467.9,730.6 469.5,758.5 471.1,781.7 472.7,786.6 474.3,764.8 476,728.4 477.6,704.8 479.2,711.8 480.8,743.8 482.4,777.9 484.1,791 485.7,775.3 487.3,742.9 488.9,713.8 490.5,709.5 492.2,734.2 493.8,773.9 495.4,799.8 497,784.3 498.6,735.8 500.3,702.5 501.9,719 503.5,767.9 505.1,802.3 506.7,788.5 508.4,753.4 510,750.2 511.6,773.4 513.2,767.1 514.8,718.6 516.5,692.1 518.1,716.3 519.7,744.8 521.3,741.8 522.9,740.4 524.6,777 526.2,799 527.8,763.9 529.4,735.7 531,756.8 532.7,787.2 534.3,767.9 535.9,720.1 537.5,712 539.1,753.5 540.8,786.1 542.4,760.1 544,719.8 545.6,735.6 547.2,776.1 548.9,773.4 550.5,728.5 552.1,698.6 553.7,721.5 555.3,776.7 557,809.7 558.6,787.4 560.2,731.5 561.8,698 563.4,715 565.1,756.3 566.7,787.2 568.3,788 569.9,758.1 571.5,721.9 573.2,713.2 574.8,738.5 576.4,759.3 578,746.8 579.6,722.2 581.3,718.4 582.9,742 584.5,776.8 586.1,797.5 587.7,781.9 589.4,739.6 591,714.8 592.6,736.9 594.2,778.7 595.8,786.2 597.5,747.6 599.1,709.2 600.7,715.9 602.3,757.8 603.9,785.3 605.6,767.4 607.2,728 608.8,713.8 610.4,737.6 612,763.9 613.7,770.2 615.3,760.8 616.9,740.2 618.5,726.6 620.1,734.3 621.8,756.9 623.4,769.5 625,757.9 626.6,740.9 628.2,745.5 629.9,766.3 631.5,773.1 633.1,757.7 634.7,738.4 636.3,732.6 638,743.6 639.6,761.1 641.2,770.7 642.8,765 644.4,747.2 646.1,730.6 647.7,731.7 649.3,751.5 650.9,767.1 652.5,756.5 654.2,736.6 655.8,742 657.4,765.3 659,769.5 660.6,746.4 662.3,726.2 663.9,733.9 665.5,757.7 667.1,767.2 668.7,752.8 670.4,734.6 672,733.8 673.6,749 675.2,765.5 676.8,772.6 678.5,767.2 680.1,753.3 681.7,738.2 683.3,728.4 684.9,730.5 686.6,746.8 688.2,764.5 689.8,763.4 691.4,744.8 693,733.8 694.7,745.7 696.3,767.2 697.9,775.2 699.5,761.5 701.1,737.8 702.8,724 704.4,732.5 706,756.6 707.6,775.2 709.2,772.9 710.9,754.2 712.5,735 714.1,726.6 715.7,731 717.3,745.8 719,764.6 720.6,775.9 722.2,773.5 723.8,755.4 725.4,731.5 727.1,718.6 728.7,727 730.3,754.4 731.9,780.1 733.5,779 735.2,749.6 736.8,720 738.4,720.4 740,750.8 741.6,778.3 743.3,772.2 744.9,742.9 746.5,731.1 748.1,752 749.7,774.3 751.4,770 753,755.9 754.6,747.6 756.2,737.4 757.8,724.5 759.5,723.5 761.1,742 762.7,768.9 764.3,784.3 765.9,776.9 767.6,751.9 769.2,726.7 770.8,719.2 772.4,736.6 774,764.5 775.7,771.3 777.3,750 778.9,740.3 780.5,763.8 782.1,780.3 783.8,754.8 785.4,731.7 787,742.9 788.6,752.8 790.2,733.9 791.9,712.1 793.5,729.7 795.1,762.3 796.7,763.1 798.3,738.2 800,731.8 801.6,761.6 803.2,779.5 804.8,759 806.4,737.8 808.1,746.9 809.7,775 811.3,785 812.9,762.4 814.5,732.6 816.2,727.1 817.8,749.3 819.4,773.5 821,781.1 822.6,749.3 824.3,713.8 825.9,706.4 827.5,735.2 829.1,775.6 830.7,789.9 832.4,763.1 834,722.2 835.6,709.8 837.2,737.8 838.8,776.4 840.5,790.9 842.1,776.5 843.7,752.4 845.3,731.8 846.9,716.5 848.6,716 850.2,741.6 851.8,778 853.4,790.4 855,764.5 856.7,729.1 858.3,723.9 859.9,741.4 861.5,756.3 863.1,756.4 864.8,747 866.4,747.4 868,760.3 869.6,770.8 871.2,766 872.9,747.6 874.5,731.5 876.1,734.3 877.7,753.9 879.3,769.6 881,765.6 882.6,747.2 884.2,731.3 885.8,728.5 887.4,738.1 889.1,752.6 890.7,764.1 892.3,768.3 893.9,763.5 895.5,749.8 897.2,735.7 898.8,736 900.4,753.1 902,770.8 903.6,771.8 905.3,755.1 906.9,735 908.5,727.3 910.1,736.6 911.7,753.1 913.4,763.5 915,764.5 916.6,765.5 918.2,758.2 919.8,728.7 921.5,703 923.1,714.2 924.7,753.4 926.3,779.3 927.9,777.7 929.6,775.8 931.2,781.3 932.8,768.2 934.4,730 936,697.4 937.7,701.7 939.3,740.6 940.9,779.8 942.5,783.8 944.1,756 945.8,735 947.4,750.2 949,787.1 950.6,798.7 952.2,771.1 953.9,751.2 955.5,755.4 957.1,768.3 958.7,769.4 960.3,751.6 962,734.7 963.6,735.8 965.2,743.8 966.8,740.1 968.4,727.7 970.1,726 971.7,737.8 973.3,750.5 974.9,761.2 976.5,771.9 978.2,774 979.8,756.6 981.4,731.3 983,724.1 984.6,744.2 986.3,771.7 987.9,779 989.5,761.2 991.1,736.3 992.7,723.7 994.4,730.4 996,751.9 997.6,772.5 999.2,772.3 1000.8,749 1002.5,726.8 1004.1,726.1 1005.7,760.1 1007.3,796.9 1008.9,788.8 1010.6,762.1 1012.2,742.7 1013.8,722.6 1015.4,701.2 1017,705.8 1018.7,746.9 1020.3,790.8 1021.9,785.6 1023.5,753.1 1025.1,736.2 1026.8,734.9 1028.4,747.2 1030,758.8 1031.6,763.1 1033.2,764.4 1034.9,765.1 1036.5,762.9 1038.1,756.2 1039.7,745.6 1041.3,734.9 1043,731.3 1044.6,740.1 1046.2,755.7 1047.8,764.8 1049.4,761 1051.1,748.3 1052.7,735.3 1054.3,732 1055.9,744.3 1057.5,764.4 1059.2,774.3 1060.8,762.8 1062.4,741.3 1064,734.8 1065.6,750 1067.3,764.4 1068.9,756.6 1070.5,736.3 1072.1,729.2 1073.7,743.4 1075.4,762.4 1077,765.6 1078.6,750.4 1080.2,733.6 1081.8,732.6 1083.5,747.2 1085.1,762.6 1086.7,766.1 1088.3,760.4 1089.9,757.1 1091.6,760.1 1093.2,762.1 1094.8,763.2 1096.4,755.1 1098,735.5 1099.7,709.8 1101.3,699.2 1102.9,721.1 1104.5,755.3 1106.1,769.9 1107.8,771.5 1109.4,773.5 1111,755.7 1112.6,720.7 1114.2,705.3 1115.9,727.8 1117.5,772 1119.1,800.7 1120.7,781.7 1122.3,739.4 1124,723.5 1125.6,734.4 1127.2,764.1 1128.8,783.5 1130.4,774.6 1132.1,746.6 1133.7,728 1135.3,736.7 1136.9,757.6 1138.5,760.1 1140.2,736.9 1141.8,717.5 1143.4,731.8 1145,755.2 1146.6,754.5 1148.3,733.5 1149.9,725.8 1151.5,745.9 1153.1,770.7 1154.7,776.3 1156.4,759.9 1158,736.6 1159.6,726.7 1161.2,740.3 1162.8,767.6 1164.5,784.5 1166.1,774 1167.7,743.6 1169.3,723.4 1170.9,734.7 1172.6,757.5 1174.2,755 1175.8,728.6 1177.4,718.8 1179,743.2 1180.7,771.2 1182.3,772 1183.9,747.7 1185.5,725.7 1187.1,727.8 1188.8,747.3 1190.4,764.6 1192,773 1193.6,770.3 1195.2,761.5 1196.9,752.3 1198.5,742.8 1200.1,733.6 1201.7,734.8 1203.3,751 1205,766.2 1206.6,762.7 1208.2,743.6 1209.8,728.1 1211.4,727.9 1213.1,739.4 1214.7,753.6 1216.3,764.2 1217.9,765.9 1219.5,754.7 1221.2,738.2 1222.8,734.8 1224.4,751.5 1226,771.7 1227.6,771.9 1229.3,753.5 1230.9,742 1232.5,752.3 1234.1,769.6 1235.7,769.9 1237.4,750.7 1239,730.9 1240.6,728.7 1242.2,745.8 1243.8,763 1245.5,759.8 1247.1,740.2 1248.7,728.7 1250.3,739.4 1251.9,758.4 1253.6,764 1255.2,750.5 1256.8,732.6 1258.4,730.4 1260,748.5 1261.7,770.3 1263.3,781.5 1264.9,768.7 1266.5,741.7 1268.1,726.9 1269.8,732.8 1271.4,745.1 1273,742.9 1274.6,730.1 1276.2,729.7 1277.9,750.8 1279.5,776.7 1281.1,782.4 1282.7,759.3 1284.3,727.8 1286,719.8 1287.6,744.6 1289.2,777.3 1290.8,783.4 1292.4,762.2 1294.1,739.9"/>
<polyline fill="none" stroke="#000" stroke-width="1.0" stroke-linejoin="round" points="325.3,459.6 325.6,535.6 325.8,528.7 326.1,554.2 326.4,532.2 326.6,491 326.9,491.6 327.2,485.6 327.5,521.9 327.7,496.3 328,529 328.3,519.9 328.5,495.1 328.8,484.9 329.1,502.9 329.4,524.3 329.6,525.6 329.9,518.8 330.2,490.5 330.4,497.7 330.7,497.6 331,487.3 331.2,507.8 331.5,524.9 331.8,510.6 332,488 332.3,478.9 332.6,520.6 332.9,523.4 333.1,493.6 333.4,501.1 333.7,500.2 333.9,504.4 334.2,513.3 334.5,505.9 334.8,489.7 335,537.2 335.3,500.6 335.6,519.1 335.8,523 336.1,502.3 336.4,499.7 336.6,515.5 336.9,523.9 337.2,505.4 337.5,498.8 337.7,484.2 338,500.4 338.3,511.5 338.5,498.9 338.8,508.8 339.1,516.1 339.3,502.1 339.6,502.6 339.9,505.8 340.1,505.5 340.4,496.2 340.7,541.6 341,512.9 341.2,510.6 341.5,521.2 341.8,491.8 342,511.7 342.3,508.5 342.6,547.5 342.9,519 343.1,478.7 343.4,469.7 343.7,530.5 343.9,537.5 344.2,534.4 344.5,524.8 344.7,469.5 345,490.1 345.3,475.1 345.6,516.3 345.8,519.7 346.1,551.5 346.4,529.7 346.6,505.2 346.9,461.1 347.2,472 347.4,498.4 347.7,511.4 348,529.3 348.2,539.8 348.5,524.7 348.8,493.4 349.1,462.4 349.3,503 349.6,538 349.9,550.8 350.1,521.9 350.4,479.4 350.7,497.7 351,527.6 351.2,520.7 351.5,497 351.8,488.1 352,492.3 352.3,512.2 352.6,519.9 352.8,526.2 353.1,495.6 353.4,494.9 353.6,483.7 353.9,504.1 354.2,518.3 354.5,531.8 354.7,493.8 355,476.7 355.3,463.2 355.5,510.3 355.8,516.3 356.1,536.7 356.4,525 356.6,537.1 356.9,473.6 357.2,464.2 357.4,509.8 357.7,540.5 358,547.1 358.2,513 358.5,477.4 358.8,463.3 359.1,504.6 359.3,518.5 359.6,525.6 359.9,494.1 360.1,487.4 360.4,479.9 360.7,512.6 360.9,513.9 361.2,521.3 361.5,498.1 361.8,503.8 362,508.6 362.3,503.2 362.6,494.9 362.8,513.4 363.1,522.8 363.4,508.6 363.6,486.3 363.9,501.9 364.2,509.7 364.4,518 364.7,517.4 365,502.8 365.3,499.1 365.5,505 365.8,504.8 366.1,507.2 366.3,508.2 366.6,519 366.9,509.5 367.1,503.3 367.4,510.9 367.7,511.3 368,516.2 368.2,509.8 368.5,494.2 368.8,508.1 369,515 369.3,510.7 369.6,503.3 369.9,470.5 370.1,513.1 370.4,493.9 370.7,536.2 370.9,524.1 371.2,482.5 371.5,463.9 371.7,478.6 372,538.5 372.3,522.6 372.5,514.6 372.8,467.2 373.1,463.9 373.4,508.3 373.6,476.9 373.9,506.3 374.2,480.3 374.4,520.5 374.7,524.9 375,504.9 375.2,470.3 375.5,481.3 375.8,485.7 376.1,530.6 376.3,504.1 376.6,520.5 376.9,478 377.1,519.5 377.4,527.3 377.7,510.5 377.9,518.1 378.2,511.7 378.5,508.9 378.8,513.5 379,480.9 379.3,464.2 379.6,485.6 379.8,504.7 380.1,531.8 380.4,549.4 380.6,506.3 380.9,526.1 381.2,476.8 381.5,493.2 381.7,484 382,511.5 382.3,532 382.5,516.6 382.8,512.5 383.1,492.2 383.4,495.2 383.6,516.8 383.9,524 384.2,518.1 384.4,500 384.7,517.4 385,502.8 385.2,518.6 385.5,506.9 385.8,509.7 386.1,527.7 386.3,490.1 386.6,491.6 386.9,516.8 387.1,515.5 387.4,522.3 387.7,521.4 387.9,499.2 388.2,502.3 388.5,508.7 388.8,524.8 389,504.6 389.3,500.7 389.6,517.6 389.8,509.5 390.1,499.5 390.4,504.7 390.6,488 390.9,515.9 391.2,533.6 391.4,524.3 391.7,503 392,465.6 392.3,487.7 392.5,500.7 392.8,519.1 393.1,530.3 393.3,493.4 393.6,501.6 393.9,479.7 394.1,491.8 394.4,506.2 394.7,540.6 395,503.5 395.2,501.2 395.5,481.2 395.8,497.8 396,522.8 396.3,531.8 396.6,520.2 396.9,488.1 397.1,458.7 397.4,480.3 397.7,516.7 397.9,508.5 398.2,498.6 398.5,509.9 398.7,510.2 399,494.4 399.3,487 399.5,493.9 399.8,502.7 400.1,503.9 400.4,521.7 400.6,492.8 400.9,480.5 401.2,480 401.4,546.3 401.7,529.8 402,510.7 402.2,516.4 402.5,470.3 402.8,470.7 403.1,493.5 403.3,515.9 403.6,558.1 403.9,538.2 404.1,481.7 404.4,490.9 404.7,463.9 405,501.6 405.2,510 405.5,531.1 405.8,545.5 406,502.4 406.3,479.2 406.6,507.2 406.8,535 407.1,519.8 407.4,511.8 407.6,512.9 407.9,513.6 408.2,509.4 408.5,524.9 408.7,491.3 409,475.8 409.3,499 409.5,513.4 409.8,515.7 410.1,512.6 410.4,520.8 410.6,526.7 410.9,487.8 411.2,481.4 411.4,484.1 411.7,527 412,536.1 412.2,539 412.5,524 412.8,496.1 413.1,507.2 413.3,519.4 413.6,513.9 413.9,532.1 414.1,469.1 414.4,474 414.7,490.8 414.9,489.9 415.2,522.9 415.5,538.2 415.8,482.7 416,497 416.3,551.8 416.6,515.1 416.8,531.5 417.1,469.3 417.4,488.6 417.6,512.3 417.9,496.6 418.2,552.1 418.4,528.8 418.7,479.2 419,470.3 419.3,479.2 419.5,511.4 419.8,520.9 420.1,530.8 420.3,491.6 420.6,487.4 420.9,474.1 421.2,518.8 421.4,527.8 421.7,498.5 422,500.2 422.2,493.7 422.5,508.7 422.8,508.5 423,518.9 423.3,496.1 423.6,514 423.8,515.5 424.1,512.6 424.4,529.8 424.7,510.8 424.9,497.2 425.2,480.6 425.5,499.1 425.7,533.4 426,528.5 426.3,519.7 426.6,486.6 426.8,483.2 427.1,468.6 427.4,512.7 427.6,536.8 427.9,531 428.2,501.8 428.4,471.1 428.7,491.2 429,495.2 429.2,518.9 429.5,508.8 429.8,504.5 430.1,503.2 430.3,514.5 430.6,476.8 430.9,481.6 431.1,522.2 431.4,536.8 431.7,529.7 431.9,493.5 432.2,495.8 432.5,486.2 432.8,510.3 433,513.6 433.3,526.5 433.6,513.9 433.8,485.4 434.1,495.6 434.4,523 434.6,502.8 434.9,487.2 435.2,474.4 435.5,481.1 435.7,502.7 436,527.9 436.3,512.9 436.5,505 436.8,466.4 437.1,492.7 437.4,483.6 437.6,545.7 437.9,509.7 438.2,495.1 438.4,497.6 438.7,484.9 439,499.4 439.2,517.9 439.5,531.2 439.8,513.4 440,481.4 440.3,463.5 440.6,478 440.9,506.6 441.1,535.7 441.4,527.8 441.7,526.7 441.9,499.4 442.2,478.9 442.5,514.3 442.8,528.9 443,520.7 443.3,499.6 443.6,499.6 443.8,487.1 444.1,533.8 444.4,525.4 444.6,533.5 444.9,507.2 445.2,476.8 445.5,495.3 445.7,519.1 446,530.8 446.3,521.5 446.5,512.9 446.8,496 447.1,476.3 447.3,499.2 447.6,511.3 447.9,527.7 448.1,514.4 448.4,507.5 448.7,484.7 449,484.9 449.2,489.5 449.5,495.6 449.8,529.1 450,511.3 450.3,498 450.6,510.5 450.9,507.3 451.1,513.2 451.4,473.5 451.7,445.8 451.9,496.3 452.2,513.8 452.5,569.7 452.7,519.2 453,515 453.3,523.5 453.6,461.6 453.8,507.4 454.1,506.4 454.4,548.8 454.6,575.6 454.9,497.8 455.2,436.8 455.4,468.5 455.7,515.7 456,532.2 456.3,577.4 456.5,577.4 456.8,508.8 457.1,472.5 457.3,462.9 457.6,453 457.9,504.8 458.1,496.9 458.4,502.8 458.7,489.6 458.9,459.9 459.2,468.9 459.5,499.1 459.8,527.6 460,463.4 460.3,501.3 460.6,501.4 460.8,530.6 461.1,485.9 461.4,469.7 461.6,458.7 461.9,513.9 462.2,532.6 462.5,515.1 462.7,515.9 463,490.9 463.3,487.8 463.5,490.9 463.8,475.9 464.1,531.9 464.4,521.8 464.6,513.6 464.9,581.5 465.2,513.8 465.4,515.9 465.7,512.9 466,502.5 466.2,512.9 466.5,519.5 466.8,524.9 467.1,499.7 467.3,476.6 467.6,484.6 467.9,487.1 468.1,503.2 468.4,546.6 468.7,531.8 468.9,513.8 469.2,488.2 469.5,486.2 469.7,513 470,494 470.3,496.5 470.6,517.9 470.8,496 471.1,505.2 471.4,505.3 471.6,531.9 471.9,471.1 472.2,492.1 472.5,475.9 472.7,514.4 473,536.1 473.3,526.4 473.5,493.8 473.8,503 474.1,501 474.3,512.7 474.6,528.5 474.9,486 475.1,497.5 475.4,517.8 475.7,505.4 476,520.2 476.2,497.6 476.5,473 476.8,487.3 477,541.1 477.3,560.8 477.6,539.9 477.8,484.8 478.1,479.2 478.4,482.4 478.7,513.7 478.9,560.8 479.2,539 479.5,478.1 479.7,452.8 480,464.1 480.3,531.9 480.6,545.3 480.8,537.7 481.1,473.1 481.4,452.8 481.6,506.8 481.9,554.2 482.2,533.8 482.4,501 482.7,468.5 483,471.2 483.2,525.1 483.5,545.7 483.8,510.2 484.1,518.9 484.3,465.2 484.6,485.5 484.9,491.6 485.1,512.2 485.4,519.8 485.7,512.7 485.9,518.5 486.2,480.3 486.5,483.8 486.8,498.7 487,502.6 487.3,522.7 487.6,515.3 487.8,513.8 488.1,520 488.4,508.1 488.7,514.8 488.9,473.3 489.2,488.7 489.5,510.7 489.7,534.1 490,512.3 490.3,503.5 490.5,534.4 490.8,490.7 491.1,473.2 491.4,487.9 491.6,498.1 491.9,485.8 492.2,504.8 492.4,524 492.7,492.6 493,490.3 493.2,509.2 493.5,560.8 493.8,513.8 494,512.4 494.3,480.6 494.6,491.1 494.9,490.7 495.1,527.2 495.4,543.3 495.7,509.6 495.9,472.2 496.2,488.1 496.5,471.3 496.8,507 497,532.9 497.3,505.3 497.6,520.4 497.8,480.8 498.1,495.5 498.4,490.7 498.6,521.7 498.9,532 499.2,516.8 499.4,513.2 499.7,493.6 500,488.8 500.3,487.8 500.5,525.3 500.8,536.7 501.1,524.5 501.3,514.8 501.6,501.5 501.9,500.3 502.1,511.6 502.4,511 502.7,483.2 503,489.5 503.2,501.4 503.5,524.7 503.8,523.5 504,513.9 504.3,490.2 504.6,508.4 504.9,511.7 505.1,518.7 505.4,515.2 505.7,502.8 505.9,492.2 506.2,473.3 506.5,513.6 506.7,530.4 507,536.5 507.3,494.3 507.6,452.3 507.8,468.7 508.1,479.1 508.4,526.6 508.6,541.9 508.9,512.7 509.2,481.7 509.4,483.4 509.7,477 510,520.5 510.2,532.5 510.5,518 510.8,504.4 511.1,494.2 511.3,519.1 511.6,522.9 511.9,520.2 512.1,493.4 512.4,467 512.7,492.9 513,489.5 513.2,547.9 513.5,539 513.8,489 514,515.6 514.3,493.5 514.6,510.9 514.8,499.8 515.1,473.1 515.4,499.4 515.6,561.8 515.9,543.8 516.2,495.7 516.5,464.5 516.7,501.7 517,542.1 517.3,520.6 517.5,511.1 517.8,504.9 518.1,528.5 518.3,483.6 518.6,546.6 518.9,505.6 519.2,467 519.4,503.2 519.7,511.1 520,541 520.2,499.7 520.5,521.5 520.8,485 521,488 521.3,518.2 521.6,501.1 521.9,551.4 522.1,543.6 522.4,511.4 522.7,479.9 522.9,452.5 523.2,481.6 523.5,552.7 523.8,562.4 524,524.6 524.3,487.8 524.6,467 524.8,501.4 525.1,498.6 525.4,574 525.6,529.4 525.9,509.9 526.2,541.7 526.4,501 526.7,460 527,515.5 527.3,506.6 527.5,540.1 527.8,524.5 528.1,550.9 528.3,527.4 528.6,506.5 528.9,471.4 529.2,457.8 529.4,517.3 529.7,536.5 530,529.6 530.2,490.6 530.5,484.3 530.8,527.6 531,529 531.3,495.2 531.6,483.2 531.9,497.6 532.1,495.4 532.4,545.8 532.7,526 532.9,495.8 533.2,485.1 533.5,507.3 533.7,500.8 534,534.5 534.3,529.5 534.5,511.7 534.8,505 535.1,526.9 535.4,491.4 535.6,487.6 535.9,506.6 536.2,508.7 536.4,536.4 536.7,540.1 537,489.7 537.2,479 537.5,510.4 537.8,499.4 538.1,521 538.3,513.6 538.6,500.1 538.9,498.9 539.1,499.7 539.4,517.5 539.7,523.9 540,537.1 540.2,534.3 540.5,488.8 540.8,512.5 541,522.5 541.3,540.5 541.6,529.7 541.8,499.7 542.1,467.5 542.4,451.5 542.6,503.4 542.9,513.5 543.2,547.5 543.5,544 543.7,471.7 544,466.1 544.3,449.5 544.5,517.2 544.8,550.2 545.1,564.1 545.4,519.8 545.6,515.1 545.9,485.9 546.2,511.8 546.4,475.6 546.7,465.5 547,510.2 547.2,504.6 547.5,517.2 547.8,463.4 548,483.3 548.3,523.4 548.6,490.7 548.9,517.1 549.1,522.5 549.4,511 549.7,531.8 549.9,517.5 550.2,534.5 550.5,473.2 550.8,475.4 551,534.8 551.3,561.3 551.6,546.2 551.8,543 552.1,471.4 552.4,474.4 552.6,528.7 552.9,557.5 553.2,532.2 553.5,481.1 553.7,451.6 554,472.9 554.3,460.5 554.5,521.6 554.8,528.9 555.1,560.2 555.3,502.1 555.6,514.6 555.9,502.6 556.1,494.9 556.4,497.6 556.7,532.5 557,517.9 557.2,514.3 557.5,515.2 557.8,519 558,495.7 558.3,504.8 558.6,492.9 558.8,502.2 559.1,512.2 559.4,519.4 559.7,508.5 559.9,515.5 560.2,527.1 560.5,496 560.7,494.1 561,504.1 561.3,483 561.5,502.4 561.8,510.5 562.1,556.2 562.4,526 562.6,513.3 562.9,466.6 563.2,494.6 563.4,518.1 563.7,527.8 564,484.6 564.2,503 564.5,524.6 564.8,534.5 565.1,535.6 565.3,484.2 565.6,537.2 565.9,509.8 566.1,490.6 566.4,492 566.7,506.8 566.9,472 567.2,482.6 567.5,508.1 567.8,538.7 568,488.2 568.3,484.9 568.6,450.5 568.8,517.9 569.1,510.4 569.4,554.2 569.7,516.3 569.9,454.8 570.2,529.2 570.5,548.2 570.7,562.8 571,456.5 571.3,471.6 571.5,513.2 571.8,493.5 572.1,477.3 572.3,524 572.6,513.9 572.9,487.2 573.2,497.5 573.4,502.9 573.7,509.3 574,482 574.2,510.5 574.5,544.3 574.8,526.2 575,541.2 575.3,498.8 575.6,513.2 575.9,515.4 576.1,502.5 576.4,475.3 576.7,503.9 576.9,522.7 577.2,531 577.5,527 577.8,512.3 578,492.6 578.3,465.3 578.6,465.3 578.8,525.8 579.1,490.1 579.4,524.7 579.6,503.8 579.9,514.3 580.2,487.9 580.5,484 580.7,492.3 581,499.4 581.3,514.4 581.5,532.9 581.8,514.1 582.1,494.1 582.3,487.4 582.6,498.1 582.9,506 583.1,514.3 583.4,525.5 583.7,520.2 584,482.3 584.2,509.9 584.5,513.6 584.8,526.7 585,488.4 585.3,467.1 585.6,492.8 585.8,494.5 586.1,525 586.4,496.4 586.7,505 586.9,516.5 587.2,475.5 587.5,495.1 587.7,499.2 588,493.4 588.3,505.8 588.5,516 588.8,513.7 589.1,522.7 589.4,518 589.6,460.5 589.9,496.4 590.2,516.2 590.4,529.7 590.7,507.4 591,483.7 591.2,480.3 591.5,486.3 591.8,538.6 592.1,537.2 592.3,531.1 592.6,497.1 592.9,459.9 593.1,498.1 593.4,479.2 593.7,559.4 594,524.9 594.2,467.7 594.5,460.4 594.8,506.3 595,559.2 595.3,528.6 595.6,473.5 595.8,498.3 596.1,522.5 596.4,559 596.6,519.1 596.9,504 597.2,487 597.5,467.1 597.7,499.9 598,558 598.3,554.3 598.5,508.6 598.8,460.5 599.1,455.1 599.4,507.8 599.6,549.5 599.9,526.8 600.2,503.1 600.4,493.7 600.7,481 601,540.3 601.2,528 601.5,483.9 601.8,494.2 602,488 602.3,517.6 602.6,521.7 602.9,493 603.1,505.2 603.4,541.7 603.7,526.9 603.9,515.8 604.2,478.3 604.5,488.2 604.8,516.8 605,525.3 605.3,505.7 605.6,488.5 605.8,485.7 606.1,494 606.4,519.8 606.6,528.6 606.9,508.6 607.2,491.7 607.5,480.1 607.7,514.8 608,540.4 608.3,541.7 608.5,518.2 608.8,489.7 609.1,484.6 609.3,505.6 609.6,515.1 609.9,501.3 610.1,528.9 610.4,550.1 610.7,473.7 611,462.1 611.2,455.5 611.5,513.2 611.8,535.8 612,543.1 612.3,429 612.6,472.4 612.8,465.1 613.1,459.8 613.4,554.1 613.7,584.8 613.9,518.6 614.2,479.6 614.5,429.5 614.7,462.7 615,509.2 615.3,510.2 615.5,542.5 615.8,543.2 616.1,548.6 616.4,473.5 616.6,468.5 616.9,524.9 617.2,541.4 617.4,520.8 617.7,504.3 618,465.6 618.2,465.7 618.5,489.3 618.8,509.9 619.1,536.3 619.3,519.9 619.6,522 619.9,495.2 620.1,464.1 620.4,495.7 620.7,507.1 621,517.6 621.2,531.9 621.5,519.1 621.8,486.5 622,467.8 622.3,495.4 622.6,513.7 622.8,509.2 623.1,541.4 623.4,564.4 623.7,520.9 623.9,474.8 624.2,487.8 624.5,481.1 624.7,524.6 625,547.6 625.3,563.2 625.5,477.1 625.8,445.1 626.1,488.3 626.3,494.2 626.6,519.6 626.9,516.5 627.2,513.1 627.4,519.4 627.7,507.6 628,484 628.2,489.5 628.5,489 628.8,492.1 629,493.8 629.3,521 629.6,534.2 629.9,496 630.1,476.2 630.4,494.2 630.7,552.7 630.9,546.3 631.2,548.2 631.5,489.3 631.8,496.1 632,481 632.3,497 632.6,534.4 632.8,516.5 633.1,431.5 633.4,532.8 633.6,447.3 633.9,456.3 634.2,493.4 634.5,533.3 634.7,506.8 635,481.9 635.3,502 635.5,518.9 635.8,531.6 636.1,542 636.3,460.1 636.6,494.7 636.9,487.3 637.1,496.5 637.4,552.9 637.7,556.2 638,531.9 638.2,494.2 638.5,456.1 638.8,480.5 639,511.4 639.3,548.3 639.6,522.8 639.9,502 640.1,490 640.4,485.3 640.7,497.8 640.9,508.3 641.2,528.2 641.5,510.8 641.7,480.6 642,503.5 642.3,513.4 642.5,500.9 642.8,506.7 643.1,506 643.4,498.8 643.6,506.4 643.9,508.9 644.2,517.1 644.4,501.2 644.7,507.9 645,509.4 645.2,508.4 645.5,510.5 645.8,498.3 646.1,503.5 646.3,511.4 646.6,511.8 646.9,519.1 647.1,519.3 647.4,504.6 647.7,499.5 648,507.2 648.2,517 648.5,513.8 648.8,504.5 649,482 649.3,489.7 649.6,508.5 649.8,486.7 650.1,487 650.4,512.8 650.6,519.7 650.9,510.7 651.2,502.8 651.5,482.7 651.7,491.1 652,494.1 652.3,504.7 652.5,497.5 652.8,520.2 653.1,526 653.3,549.8 653.6,489.9 653.9,459.6 654.2,472.3 654.4,522.9 654.7,529.6 655,523.6 655.2,496.2 655.5,500.8 655.8,529.1 656,516.7 656.3,525.8 656.6,460.4 656.9,503.9 657.1,511.7 657.4,528.2 657.7,523.4 657.9,543.8 658.2,524.7 658.5,459.6 658.8,472.4 659,554 659.3,554 659.6,553.1 659.8,481.9 660.1,459.6 660.4,507.4 660.6,472.8 660.9,529.9 661.2,527.2 661.5,490.7 661.7,489.5 662,465.7 662.3,502 662.5,526 662.8,508.6 663.1,493.9 663.3,499.3 663.6,509.5 663.9,542.2 664.2,486.3 664.4,481.3 664.7,476.9 665,486.7 665.2,563.1 665.5,554.3 665.8,509.3 666,494.9 666.3,481.7 666.6,475.1 666.8,506.1 667.1,526.1 667.4,555.6 667.7,542.8 667.9,472 668.2,502 668.5,519.7 668.7,501.2 669,491.7 669.3,500.3 669.5,511.7 669.8,520 670.1,520.3 670.4,489.2 670.6,492.5 670.9,511.1 671.2,519.6 671.4,510.8 671.7,481.9 672,477.5 672.2,513.4 672.5,510.8 672.8,525.6 673.1,517.6 673.3,495.3 673.6,503.8 673.9,506.8 674.1,504.9 674.4,517.3 674.7,513.3 675,499.6 675.2,495.4 675.5,506 675.8,519.6 676,508.4 676.3,500.4 676.6,491.3 676.8,506.4 677.1,511 677.4,502.8 677.7,502.8 677.9,494.4 678.2,501.9 678.5,518.3 678.7,505.9 679,497 679.3,516.4 679.5,503.2 679.8,499.9 680.1,493 680.3,520.8 680.6,516.7 680.9,487 681.2,477.4 681.4,499.5 681.7,499.5 682,493.3 682.2,522.6 682.5,519.4 682.8,477.7 683,496.8 683.3,481.7 683.6,498.7 683.9,515.8 684.1,507 684.4,532.9 684.7,528 684.9,509.9 685.2,497.7 685.5,489.2 685.8,508.9 686,492.4 686.3,514.9 686.6,510.7 686.8,515.9 687.1,512.5 687.4,508.8 687.6,488.8 687.9,477.8 688.2,510.4 688.5,511.5 688.7,529.2 689,523.5 689.3,507.9 689.5,480.2 689.8,480.1 690.1,516.8 690.3,518.1 690.6,500 690.9,503.3 691.1,535.6 691.4,528.9 691.7,530.4 692,477.4 692.2,491 692.5,497.8 692.8,532.2 693,529.6 693.3,513.5 693.6,489.9 693.8,505.4 694.1,489.8 694.4,509.2 694.7,518.6 694.9,506.3 695.2,513.4 695.5,513.6 695.7,515.3 696,501.4 696.3,497.2 696.5,499.1 696.8,516.6 697.1,527.6 697.4,520.5 697.6,492.7 697.9,484.1 698.2,477.6 698.4,515 698.7,539.1 699,513.3 699.2,505.1 699.5,487.8 699.8,494.3 700.1,515.6 700.3,511.9 700.6,486.3 700.9,507 701.1,510.7 701.4,500.5 701.7,495.3 702,496.3 702.2,510.1 702.5,543.2 702.8,503.5 703,506.3 703.3,501.6 703.6,498.1 703.8,512.8 704.1,525.7 704.4,510.8 704.7,513.1 704.9,504.9 705.2,509.8 705.5,508.8 705.7,507 706,515.5 706.3,514.5 706.5,501.1 706.8,498.2 707.1,501.8 707.3,504.8 707.6,494.2 707.9,511 708.2,510.8 708.4,515.1 708.7,507.2 709,500.6 709.2,504.7 709.5,504.3 709.8,505.2 710,504.3 710.3,500.5 710.6,513.9 710.9,519.8 711.1,519.1 711.4,507.3 711.7,477.6 711.9,485.2 712.2,524.5 712.5,505.9 712.8,506.1 713,491.3 713.3,520.1 713.6,524.9 713.8,506.5 714.1,524.7 714.4,503.1 714.6,499.3 714.9,505.2 715.2,529.3 715.4,527.5 715.7,517.4 716,510.2 716.3,490.7 716.5,484.1 716.8,478.1 717.1,511.9 717.3,518.9 717.6,531.6 717.9,496.3 718.2,512.9 718.4,508.7 718.7,509.8 719,510.3 719.2,490.8 719.5,492 719.8,509.7 720,505.5 720.3,516.8 720.6,521.1 720.9,531.4 721.1,507 721.4,473 721.7,473.7 721.9,502.5 722.2,542.7 722.5,536.5 722.7,513.4 723,495.4 723.3,492.1 723.5,509.2 723.8,541.7 724.1,517.1 724.4,506.7 724.6,494.1 724.9,486 725.2,483.6 725.4,528.2 725.7,529.6 726,523.7 726.2,490.2 726.5,478.3 726.8,488.1 727.1,500.1 727.3,519.5 727.6,516 727.9,514.3 728.1,491.6 728.4,500.9 728.7,497.7 729,506.8 729.2,504.7 729.5,510 729.8,512.7 730,505.7 730.3,508.4 730.6,505.8 730.8,492.6 731.1,507.6 731.4,517.7 731.6,508.4 731.9,506.3 732.2,520 732.5,492.3 732.7,490.9 733,509.4 733.3,531.1 733.5,502.2 733.8,511.5 734.1,498.2 734.3,492.8 734.6,497.2 734.9,496.5 735.2,502.8 735.4,518.5 735.7,501.6 736,519.5 736.2,507.3 736.5,476.4 736.8,488.8 737,483.6 737.3,517.3 737.6,529 737.9,524.7 738.1,502.9 738.4,491.5 738.7,488.6 738.9,502.2 739.2,514.8 739.5,521.5 739.8,488.6 740,471.3 740.3,501.7 740.6,533.3 740.8,510.9 741.1,511.2 741.4,506.1 741.6,484.5 741.9,501.7 742.2,516.6 742.5,503.3 742.7,541.6 743,504.1 743.3,520.5 743.5,497.5 743.8,470.1 744.1,475 744.3,511.9 744.6,485.2 744.9,517.7 745.2,512.1 745.4,500.6 745.7,493.2 746,533.9 746.2,496.9 746.5,481.8 746.8,512 747,516.4 747.3,496.7 747.6,514.7 747.8,488.6 748.1,481 748.4,516.1 748.7,488.1 748.9,492.6 749.2,489.7 749.5,475.1 749.7,489.3 750,501.7 750.3,534.3 750.5,545.5 750.8,526.6 751.1,483.7 751.4,482 751.6,518.8 751.9,475.4 752.2,510.3 752.4,512.4 752.7,546.4 753,559.4 753.2,511.3 753.5,493.4 753.8,493.3 754.1,493.1 754.3,517.9 754.6,535 754.9,558.4 755.1,514.4 755.4,503.3 755.7,467.8 755.9,487.1 756.2,505.7 756.5,514 756.8,504.2 757,499.6 757.3,525.3 757.6,515.4 757.8,494.9 758.1,480.9 758.4,534.6 758.7,519.4 758.9,517.2 759.2,518.2 759.5,493.4 759.7,501.8 760,524.9 760.3,521.9 760.5,533.4 760.8,512.1 761.1,512.2 761.4,489.4 761.6,533.3 761.9,509.1 762.2,494.9 762.4,514.5 762.7,498.7 763,525 763.2,498.7 763.5,481.5 763.8,447.4 764,476.9 764.3,469 764.6,517.1 764.9,533.8 765.1,500.6 765.4,494.3 765.7,456 765.9,461.1 766.2,446.1 766.5,470.9 766.8,558.5 767,524.1 767.3,516.2 767.6,471.2 767.8,456.9 768.1,455.4 768.4,525 768.6,563.4 768.9,575.2 769.2,521 769.5,459.5 769.7,445.9 770,475.5 770.3,593.5 770.5,559.1 770.8,522.5 771.1,521.2 771.3,505.3 771.6,475.9 771.9,497.9 772.1,469.3 772.4,500.2 772.7,493.6 773,583.4 773.2,583.2 773.5,497.7 773.8,442.1 774,431.1 774.3,444.7 774.6,548.2 774.8,551.5 775.1,506.7 775.4,463.6 775.7,464.6 775.9,438.8 776.2,516.3 776.5,509.9 776.7,515 777,506.1 777.3,550 777.5,549.6 777.8,486.3 778.1,473.9 778.4,496.8 778.6,496 778.9,503.3 779.2,543.9 779.4,496.5 779.7,518.3 780,491.2 780.2,528.5 780.5,491.1 780.8,539.3 781.1,494.3 781.3,501.4 781.6,472.1 781.9,588.5 782.1,529.9 782.4,495 782.7,464.6 783,458.8 783.2,493.2 783.5,497.7 783.8,507.8 784,511.4 784.3,491.1 784.6,486.2 784.8,518.5 785.1,518.9 785.4,497.4 785.7,507.6 785.9,483.1 786.2,488 786.5,537.5 786.7,528.5 787,533.8 787.3,506.9 787.5,513.5 787.8,512.3 788.1,517.7 788.3,519.4 788.6,504.7 788.9,517.3 789.2,477 789.4,532 789.7,555.7 790,523.7 790.2,474.7 790.5,489.7 790.8,505.6 791,524.8 791.3,509.6 791.6,533 791.9,512.8 792.1,502 792.4,496.7 792.7,476.7 792.9,509.1 793.2,522.3 793.5,485.2 793.8,498.3 794,521.1 794.3,524.2 794.6,480 794.8,499.8 795.1,484.9 795.4,498.2 795.6,487.1 795.9,513 796.2,513.9 796.4,516 796.7,505.7 797,516.3 797.3,539 797.5,504.9 797.8,480.1 798.1,490.4 798.3,534.2 798.6,518.2 798.9,490.3 799.2,506 799.4,515.4 799.7,522.8 800,526.3 800.2,501 800.5,501.2 800.8,531.3 801,504.2 801.3,481.8 801.6,501.3 801.9,495.8 802.1,514.3 802.4,470.3 802.7,523.4 802.9,502.7 803.2,546.9 803.5,510.4 803.7,468.7 804,464.9 804.3,520.7 804.5,557.4 804.8,557.4 805.1,508.8 805.4,457.6 805.6,461.2 805.9,467.4 806.2,545.4 806.4,554 806.7,530.7 807,486.6 807.2,523.8 807.5,530.6 807.8,484.1 808.1,467.6 808.3,485.9 808.6,550.3 808.9,532.1 809.1,496.6 809.4,481.5 809.7,497.7 810,491.8 810.2,535 810.5,557.4 810.8,520.3 811,514.2 811.3,505.6 811.6,487.9 811.8,469 812.1,506.5 812.4,518.1 812.6,549.2 812.9,533.6 813.2,505.3 813.5,504.6 813.7,511.1 814,510.5 814.3,519.8 814.5,520.9 814.8,516 815.1,508.6 815.3,492.1 815.6,509.5 815.9,496.7 816.2,505.7 816.4,516 816.7,487.5 817,459.5 817.2,485.1 817.5,521.9 817.8,535.6 818,524.6 818.3,509.3 818.6,489.4 818.9,491.8 819.1,516.4 819.4,510.3 819.7,509.2 819.9,513 820.2,509.6 820.5,501.1 820.8,520.1 821,516.6 821.3,528.8 821.6,496.7 821.8,486.1 822.1,485.4 822.4,490.1 822.6,493.9 822.9,513.8 823.2,527.7 823.5,506.9 823.7,500 824,492.7 824.3,511.5 824.5,531.2 824.8,503.6 825.1,533.9 825.3,489.3 825.6,471.4 825.9,496.3 826.2,519.4 826.4,557.6 826.7,515.7 827,471.9 827.2,474 827.5,512.1 827.8,543.9 828,521 828.3,516.5 828.6,493.9 828.8,481.2 829.1,493.5 829.4,504.6 829.7,514 829.9,515.6 830.2,519.2 830.5,515.2 830.7,503.4 831,495.5 831.3,504 831.5,511 831.8,513.3 832.1,521.8 832.4,510.6 832.6,519.6 832.9,485.8 833.2,499 833.4,518 833.7,542.7 834,517.7 834.2,511 834.5,466 834.8,508.6 835.1,528.1 835.3,504.2 835.6,485.2 835.9,491.3 836.1,554 836.4,522.4 836.7,526.5 836.9,473.9 837.2,464.8 837.5,469.6 837.8,540.2 838,546.6 838.3,538.2 838.6,486.5 838.8,487.2 839.1,477.4 839.4,479.5 839.7,524.4 839.9,535.5 840.2,524.4 840.5,493.4 840.7,505 841,484.6 841.3,467.8 841.5,501 841.8,532.3 842.1,540.4 842.4,513.5 842.6,511 842.9,509.2 843.2,506.1 843.4,514.1 843.7,501 844,523.2 844.2,503.6 844.5,518.1 844.8,501.9 845,494.2 845.3,504.9 845.6,505.7 845.9,515 846.1,520.7 846.4,507 846.7,538.2 846.9,532.6 847.2,497.8 847.5,487.3 847.8,491.4 848,522.2 848.3,529.2 848.6,525.4 848.8,545.3 849.1,519.3 849.4,523.6 849.6,462.8 849.9,471.8 850.2,492.1 850.5,541.5 850.7,554 851,510.2 851.3,464.4 851.5,459.6 851.8,494.6 852.1,517 852.3,493.8 852.6,460.9 852.9,538.5 853.2,515.6 853.4,544.6 853.7,491.4 854,512.1 854.2,491.7 854.5,505.4 854.8,502 855,507.1 855.3,489.4 855.6,528.8 855.8,517.1 856.1,454.8 856.4,498.1 856.7,503.1 856.9,484.3 857.2,526.1 857.5,475.9 857.7,520.3 858,555.8 858.3,505.9 858.5,500.1 858.8,494.4 859.1,490.8 859.4,510.9 859.6,524.4 859.9,514.3 860.2,527.7 860.4,522.4 860.7,482.2 861,578 861.2,508.3 861.5,514.1 861.8,516.1 862.1,500.7 862.3,506 862.6,475.8 862.9,523.6 863.1,523.7 863.4,520.2 863.7,513.4 864,454.1 864.2,498 864.5,521.3 864.8,515.2 865,534.7 865.3,527.7 865.6,532.4 865.8,481.6 866.1,466.2 866.4,496.7 866.6,507.1 866.9,551.8 867.2,550.9 867.5,490.1 867.7,463 868,463 868.3,522.9 868.5,519.2 868.8,523.3 869.1,497.9 869.3,501.9 869.6,503.8 869.9,501.5 870.2,523 870.4,534.2 870.7,506 871,502 871.2,495.3 871.5,500.8 871.8,523.9 872,512.6 872.3,505.8 872.6,482.7 872.9,481.4 873.1,513.9 873.4,534.2 873.7,510.9 873.9,494.5 874.2,494.9 874.5,503.4 874.8,505.4 875,519.9 875.3,510.4 875.6,497.5 875.8,483.3 876.1,487.8 876.4,474.8 876.6,497.3 876.9,517.9 877.2,520.1 877.5,503.5 877.7,481.1 878,490.5 878.3,513.9 878.5,516.3 878.8,502.7 879.1,484.8 879.3,497.5 879.6,502.3 879.9,497.4 880.2,518.4 880.4,504.7 880.7,493.2 881,502.3 881.2,520.4 881.5,503.2 881.8,514 882,518.3 882.3,479.2 882.6,512.5 882.8,501.7 883.1,516.1 883.4,511.2 883.7,502.8 883.9,514.1 884.2,506.2 884.5,505.7 884.7,515 885,496.2 885.3,511.2 885.5,512 885.8,506 886.1,499.4 886.4,507 886.6,528.6 886.9,497.5 887.2,517.6 887.4,507.8 887.7,515.3 888,548.5 888.2,536.2 888.5,507.7 888.8,466.2 889.1,470.3 889.3,480.6 889.6,511.5 889.9,520.5 890.1,519.6 890.4,486.9 890.7,478.4 891,499.5 891.2,523.4 891.5,529.9 891.8,505.4 892,544.1 892.3,498.4 892.6,511.6 892.8,497.8 893.1,511.5 893.4,521.3 893.7,505.5 893.9,544.1 894.2,499 894.5,488.3 894.7,525.6 895,494.6 895.3,519.1 895.5,511.1 895.8,524 896.1,494.3 896.3,505.3 896.6,516.1 896.9,509.8 897.2,468.1 897.4,476.2 897.7,523.8 898,529.9 898.2,522.9 898.5,480.6 898.8,475.7 899,501.6 899.3,486.1 899.6,510 899.9,511 900.1,495 900.4,518.3 900.7,501 900.9,495.5 901.2,511.7 901.5,512.1 901.8,514.1 902,502.8 902.3,514.2 902.6,497.7 902.8,502.3 903.1,496.6 903.4,501 903.6,484.1 903.9,511.9 904.2,526.9 904.5,514.1 904.7,490.1 905,485.9 905.3,476.8 905.5,511.6 905.8,533.1 906.1,515.6 906.3,525.8 906.6,498 906.9,508.1 907.1,497.7 907.4,479.7 907.7,497.2 908,487 908.2,496.2 908.5,506.4 908.8,515.2 909,496.7 909.3,509 909.6,504.2 909.8,505.6 910.1,485.2 910.4,484.3 910.7,505 910.9,539.5 911.2,543.5 911.5,510.3 911.7,478.7 912,461.8 912.3,483.8 912.5,508.7 912.8,534.1 913.1,510 913.4,499.5 913.6,523.9 913.9,508.2 914.2,492 914.4,498.5 914.7,515.9 915,547.4 915.2,530.4 915.5,528.1 915.8,489.7 916.1,486.2 916.3,502.6 916.6,492.7 916.9,516.3 917.1,507.6 917.4,516.5 917.7,508.8 918,512.6 918.2,505 918.5,503.3 918.8,468 919,492 919.3,523.6 919.6,528.7 919.8,515.8 920.1,497.3 920.4,505.1 920.7,496.5 920.9,498.5 921.2,514.9 921.5,521.9 921.7,486.1 922,507.1 922.3,516.6 922.5,506.4 922.8,524.9 923.1,513.5 923.3,524 923.6,516.8 923.9,548.8 924.2,498.6 924.4,452.8 924.7,478.6 925,505.7 925.2,509.7 925.5,530.5 925.8,510.3 926,476.5 926.3,471.4 926.6,519.9 926.9,480.2 927.1,556.4 927.4,519.9 927.7,452.8 927.9,499.7 928.2,501.1 928.5,558 928.8,544.4 929,523.7 929.3,477.4 929.6,452.8 929.8,452.8 930.1,514.8 930.4,535 930.6,555.7 930.9,480.9 931.2,464.3 931.5,452.8 931.7,492.2 932,510.9 932.3,505.2 932.5,525.4 932.8,525.6 933.1,511.1 933.3,481.4 933.6,479.3 933.9,496.2 934.2,520.7 934.4,515 934.7,506.2 935,527.6 935.2,500.9 935.5,504.4 935.8,500 936,524.1 936.3,516.5 936.6,515.4 936.8,521.5 937.1,535.8 937.4,512.9 937.7,497.7 937.9,493.8 938.2,522.1 938.5,495.5 938.7,515.9 939,501.4 939.3,513.3 939.5,506.1 939.8,502.1 940.1,510.9 940.4,495.4 940.6,497.9 940.9,466.6 941.2,528 941.4,528.3 941.7,515.5 942,518.5 942.2,499.8 942.5,504.1 942.8,475.8 943.1,535.3 943.3,526.1 943.6,524.8 943.9,494 944.1,473.4 944.4,504.2 944.7,516.4 945,512 945.2,523.2 945.5,496.2 945.8,525.8 946,527.3 946.3,525.7 946.6,479 946.8,484.1 947.1,508.5 947.4,552.4 947.6,511.3 947.9,516.5 948.2,544 948.5,490.5 948.7,500.5 949,516.1 949.3,470.4 949.5,520 949.8,530.8 950.1,512.6 950.3,504.7 950.6,520.8 950.9,481 951.2,478.9 951.4,523.3 951.7,508.9 952,487.1 952.2,506.9 952.5,524.1 952.8,510.4 953,511.5 953.3,527.2 953.6,401.5 953.9,500.3 954.1,526.8 954.4,558 954.7,479 954.9,498.3 955.2,511.3 955.5,527 955.8,584.8 956,540.2 956.3,435.9 956.6,523.7 956.8,593 957.1,533.1 957.4,507.9 957.6,441.3 957.9,426.8 958.2,532.8 958.5,581.5 958.7,579.7 959,426.8 959.3,446 959.5,487.4 959.8,488.5 960.1,490.2 960.3,563.1 960.6,581.4 960.9,503.2 961.1,540.8 961.4,487.5 961.7,454.2 962,461.8 962.2,538.7 962.5,468.3 962.8,522.3 963,470.1 963.3,498.4 963.6,515.3 963.8,496.3 964.1,507.5 964.4,523.2 964.7,435.7 964.9,487.3 965.2,489.6 965.5,544.4 965.7,559 966,520.7 966.3,490.3 966.5,485.7 966.8,484.8 967.1,519.1 967.4,518.2 967.6,524.1 967.9,498.7 968.2,489.4 968.4,534.5 968.7,492.4 969,501.7 969.2,478.2 969.5,526 969.8,507.5 970.1,501.7 970.3,517.8 970.6,509.6 970.9,524.1 971.1,511.9 971.4,514.3 971.7,480.4 972,497.4 972.2,522.4 972.5,512.3 972.8,529 973,506.6 973.3,460.5 973.6,477.4 973.8,473.9 974.1,546.1 974.4,549.7 974.7,523.4 974.9,493.1 975.2,461 975.5,505.1 975.7,525.4 976,527 976.3,551.9 976.5,541.1 976.8,461.7 977.1,481.5 977.3,488.6 977.6,509.7 977.9,490.7 978.2,568.6 978.4,526.9 978.7,513.6 979,537.5 979.2,490.5 979.5,483.7 979.8,474.1 980,517.9 980.3,552.3 980.6,537 980.9,496.5 981.1,460.2 981.4,490.4 981.7,521.1 981.9,533.1 982.2,529.6 982.5,528.4 982.8,519.4 983,508.5 983.3,495.2 983.6,518.8 983.8,525.9 984.1,485.5 984.4,491.9 984.6,499.1 984.9,510 985.2,503.7 985.5,535.6 985.7,498.9 986,479.5 986.3,473.1 986.5,515 986.8,523.9 987.1,540.5 987.3,515.3 987.6,479.4 987.9,476.3 988.1,516.2 988.4,509.9 988.7,523.3 989,520.8 989.2,514 989.5,503.3 989.8,507.5 990,495.2 990.3,500.2 990.6,496.2 990.8,506.2 991.1,531.8 991.4,517.5 991.7,486 991.9,502.4 992.2,489.2 992.5,514 992.7,530.6 993,522.5 993.3,505.7 993.5,494.4 993.8,490.4 994.1,489.2 994.4,524 994.6,508.2 994.9,513.1 995.2,514.6 995.4,504.6 995.7,506.5 996,492.2 996.2,522.4 996.5,532.5 996.8,508.9 997.1,501.5 997.3,499.1 997.6,497.7 997.9,516.3 998.1,512.2 998.4,492.6 998.7,518.2 999,498.6 999.2,491.7 999.5,494.9 999.8,495.6 1000,521.4 1000.3,507.3 1000.6,504.3 1000.8,503.1 1001.1,511.4 1001.4,525.1 1001.6,506.8 1001.9,496.5 1002.2,518.1 1002.5,510.4 1002.7,531 1003,516.5 1003.3,514.3 1003.5,474.8 1003.8,523.2 1004.1,555.3 1004.3,518.7 1004.6,487.3 1004.9,460.9 1005.2,517.3 1005.4,542.2 1005.7,539.2 1006,529.4 1006.2,505.7 1006.5,478.7 1006.8,542.2 1007,516.5 1007.3,496.8 1007.6,528.7 1007.9,495.8 1008.1,519 1008.4,513.9 1008.7,521.5 1008.9,490.1 1009.2,477.4 1009.5,469.3 1009.8,506.8 1010,517.4 1010.3,546.1 1010.6,507.8 1010.8,510.1 1011.1,488.4 1011.4,484.6 1011.6,492.1 1011.9,525.7 1012.2,535.1 1012.5,504.1 1012.7,451.8 1013,491.3 1013.3,518.8 1013.5,525.7 1013.8,541.4 1014.1,481.6 1014.3,458.6 1014.6,451.6 1014.9,476 1015.2,548 1015.4,534.8 1015.7,529.1 1016,495.2 1016.2,478.3 1016.5,452.2 1016.8,484.8 1017,536.4 1017.3,525.7 1017.6,544.3 1017.8,485.1 1018.1,513.6 1018.4,508.3 1018.7,526.3 1018.9,508.8 1019.2,500 1019.5,517.7 1019.7,517.2 1020,519.5 1020.3,485.1 1020.5,527 1020.8,527.8 1021.1,494.4 1021.4,494.2 1021.6,519.4 1021.9,543.8 1022.2,545.6 1022.4,504.5 1022.7,479.8 1023,509.6 1023.2,481.2 1023.5,497.4 1023.8,547.2 1024.1,525.7 1024.3,496 1024.6,477.1 1024.9,473.1 1025.1,539.2 1025.4,539.9 1025.7,517.8 1026,487.5 1026.2,511.6 1026.5,506 1026.8,515.2 1027,510.1 1027.3,527.9 1027.6,499.8 1027.8,501.6 1028.1,513.8 1028.4,494.7 1028.6,515.4 1028.9,482.8 1029.2,505.8 1029.5,483.3 1029.7,502.2 1030,542 1030.3,506.5 1030.5,483.9 1030.8,500.4 1031.1,490.5 1031.3,514.6 1031.6,543.5 1031.9,510.9 1032.2,478.3 1032.4,497.3 1032.7,524.9 1033,495.4 1033.2,536.2 1033.5,493.2 1033.8,470.1 1034,491.9 1034.3,562.5 1034.6,511.9 1034.9,491.3 1035.1,512 1035.4,519.1 1035.7,516.8 1035.9,498.3 1036.2,482.7 1036.5,475.8 1036.8,476 1037,552.7 1037.3,447.7 1037.6,525.2 1037.8,503.6 1038.1,566.9 1038.4,536.2 1038.6,548 1038.9,457.3 1039.2,445.3 1039.5,480.8 1039.7,532.2 1040,553.5 1040.3,564.8 1040.5,493.9 1040.8,476 1041.1,460.1 1041.3,516.1 1041.6,571.3 1041.9,536.7 1042.1,507.9 1042.4,451.9 1042.7,482.3 1043,470.2 1043.2,459.6 1043.5,546.5 1043.8,562.1 1044,513.4 1044.3,481.5 1044.6,451.7 1044.8,497.4 1045.1,550.6 1045.4,535.6 1045.7,543.7 1045.9,516.6 1046.2,470.5 1046.5,473.8 1046.7,581 1047,532 1047.3,503.7 1047.5,513 1047.8,489.9 1048.1,524.4 1048.4,506 1048.6,500 1048.9,513.5 1049.2,523.2 1049.4,527.4 1049.7,525.2 1050,496 1050.2,483.8 1050.5,515.9 1050.8,486.8 1051.1,498.2 1051.3,515.9 1051.6,512.1 1051.9,522.2 1052.1,521.9 1052.4,507.6 1052.7,466.5 1053,485.3 1053.2,495.6 1053.5,514.5 1053.8,533.8 1054,535 1054.3,525 1054.6,509 1054.8,504.6 1055.1,531.1 1055.4,508.5 1055.7,473 1055.9,533 1056.2,521.8 1056.5,522.9 1056.7,486.9 1057,502.6 1057.3,485.8 1057.5,549.5 1057.8,518.3 1058.1,543.4 1058.3,489.6 1058.6,488.7 1058.9,476.4 1059.2,540.4 1059.4,539.8 1059.7,528.5 1060,500.6 1060.2,456.2 1060.5,488.9 1060.8,507.4 1061,513 1061.3,466.4 1061.6,508.9 1061.9,514.3 1062.1,527.3 1062.4,507.7 1062.7,493.8 1062.9,470.2 1063.2,490.1 1063.5,530.2 1063.8,537.6 1064,517.9 1064.3,534.7 1064.6,469 1064.8,498.4 1065.1,506.5 1065.4,511.5 1065.6,525.5 1065.9,535.9 1066.2,506.2 1066.5,484.4 1066.7,503.5 1067,498.7 1067.3,501.3 1067.5,478.7 1067.8,480 1068.1,510.4 1068.3,540 1068.6,526.8 1068.9,518.4 1069.1,464.5 1069.4,530.6 1069.7,511.2 1070,506.1 1070.2,460.3 1070.5,496 1070.8,492 1071,491.3 1071.3,512.9 1071.6,509.2 1071.8,503.5 1072.1,505.9 1072.4,521.4 1072.7,488.7 1072.9,522.1 1073.2,500.7 1073.5,543.9 1073.7,500.1 1074,509.1 1074.3,521.4 1074.5,488.9 1074.8,512.6 1075.1,499.2 1075.4,466.7 1075.6,503.7 1075.9,531.5 1076.2,552.6 1076.4,488.7 1076.7,488.1 1077,476.7 1077.2,475.9 1077.5,508.7 1077.8,517.2 1078.1,543 1078.3,487.3 1078.6,490.5 1078.9,529 1079.1,517.3 1079.4,557.4 1079.7,477.7 1080,496.2 1080.2,512.7 1080.5,522.7 1080.8,498.6 1081,532.1 1081.3,522.7 1081.6,533 1081.8,484.1 1082.1,499.4 1082.4,486.6 1082.6,459.6 1082.9,500.7 1083.2,549.1 1083.5,525.8 1083.7,528.6 1084,473 1084.3,523.9 1084.5,496.7 1084.8,508.6 1085.1,513.7 1085.3,518.6 1085.6,521.9 1085.9,514 1086.2,508.7 1086.4,505.2 1086.7,529.7 1087,539.8 1087.2,511.9 1087.5,491.2 1087.8,480.5 1088,512.6 1088.3,498.6 1088.6,530.7 1088.9,522.1 1089.1,485.5 1089.4,504.4 1089.7,495.2 1089.9,491.7 1090.2,515.1 1090.5,524.9 1090.8,505.8 1091,500.6 1091.3,499.9 1091.6,510.7 1091.8,513 1092.1,533 1092.4,520.8 1092.6,517.7 1092.9,501.9 1093.2,499 1093.5,512.8 1093.7,506.7 1094,515.7 1094.3,528.6 1094.5,521.8 1094.8,500 1095.1,490.3 1095.3,493.6 1095.6,513.9 1095.9,542.3 1096.2,501.4 1096.4,491.1 1096.7,494.3 1097,496.8 1097.2,496.9 1097.5,481.3 1097.8,503.1 1098,484.2 1098.3,493.6 1098.6,506.6 1098.8,521.9 1099.1,514.2 1099.4,506.9 1099.7,486.4 1099.9,509 1100.2,530.9 1100.5,522.8 1100.7,514 1101,483.5 1101.3,513 1101.5,514 1101.8,515 1102.1,504 1102.4,494.2 1102.6,525 1102.9,520.7 1103.2,483.4 1103.4,460.9 1103.7,478.5 1104,503 1104.2,528.2 1104.5,537.3 1104.8,486.8 1105.1,503.6 1105.3,482.7 1105.6,527 1105.9,532.6 1106.1,504.6 1106.4,502.9 1106.7,515.9 1107,536 1107.2,531.7 1107.5,496.8 1107.8,467.3 1108,456.2 1108.3,486 1108.6,541.7 1108.8,557.4 1109.1,547.1 1109.4,494.5 1109.6,478.3 1109.9,500.2 1110.2,456.2 1110.5,525.4 1110.7,551.3 1111,550.5 1111.3,536.9 1111.5,488 1111.8,526.9 1112.1,485.9 1112.3,462.3 1112.6,451 1112.9,503.1 1113.2,550.2 1113.4,542.4 1113.7,458 1114,446.1 1114.2,519.3 1114.5,538.4 1114.8,536.4 1115,512 1115.3,479.3 1115.6,484.7 1115.9,518.9 1116.1,530.3 1116.4,510.1 1116.7,493.8 1116.9,466 1117.2,488.3 1117.5,547.8 1117.8,507.2 1118,525.9 1118.3,502.5 1118.6,513 1118.8,505.9 1119.1,479.4 1119.4,466.7 1119.6,498.2 1119.9,525.4 1120.2,520 1120.5,522.9 1120.7,525.7 1121,516.2 1121.3,488.4 1121.5,485.5 1121.8,499.7 1122.1,501.6 1122.3,497.5 1122.6,540.7 1122.9,531.5 1123.1,504.5 1123.4,491.5 1123.7,511.6 1124,483 1124.2,502.5 1124.5,512 1124.8,525.6 1125,512.7 1125.3,512.7 1125.6,489.4 1125.8,479.3 1126.1,509.1 1126.4,513.8 1126.7,535 1126.9,508.5 1127.2,492 1127.5,518.1 1127.7,484.9 1128,489.9 1128.3,523.9 1128.5,526.6 1128.8,517.8 1129.1,513.7 1129.4,492.1 1129.6,478.6 1129.9,505.2 1130.2,495.7 1130.4,501.6 1130.7,495.3 1131,503 1131.2,489.8 1131.5,474 1131.8,482.7 1132.1,499.5 1132.3,518.3 1132.6,530.3 1132.9,520.8 1133.1,510.6 1133.4,518.9 1133.7,480.9 1133.9,484 1134.2,502.7 1134.5,527.4 1134.8,500.4 1135,509.4 1135.3,520.2 1135.6,501 1135.8,481.7 1136.1,494.1 1136.4,514.8 1136.7,525.6 1136.9,519.4 1137.2,502.3 1137.5,496.9 1137.7,486.9 1138,549.5 1138.3,544 1138.5,505.9 1138.8,513.4 1139.1,503 1139.3,464.2 1139.6,474 1139.9,522.5 1140.2,549.3 1140.4,549.3 1140.7,511.2 1141,466 1141.2,477 1141.5,501.3 1141.8,549.2 1142,549.2 1142.3,516.9 1142.6,486.9 1142.9,519.2 1143.1,549.1 1143.4,497 1143.7,494.1 1143.9,498.9 1144.2,504.6 1144.5,504.6 1144.8,507.7 1145,532.2 1145.3,502.8 1145.6,493.6 1145.8,485.5 1146.1,524.5 1146.4,547.1 1146.6,518.5 1146.9,505.6 1147.2,486.8 1147.5,507.1 1147.7,492.1 1148,516.1 1148.3,491.4 1148.5,506.5 1148.8,483.6 1149.1,512.7 1149.3,509 1149.6,490.6 1149.9,528.9 1150.1,530 1150.4,489.4 1150.7,516.1 1151,573 1151.2,499.9 1151.5,518.1 1151.8,548 1152,495.2 1152.3,477 1152.6,478.3 1152.8,506 1153.1,554.3 1153.4,546.1 1153.7,490.2 1153.9,462.7 1154.2,468.6 1154.5,518.4 1154.7,561.8 1155,511.5 1155.3,536.6 1155.5,470.5 1155.8,445 1156.1,459.7 1156.4,434.6 1156.6,543.8 1156.9,533.9 1157.2,550 1157.4,501.3 1157.7,506.8 1158,528.6 1158.2,519.5 1158.5,516.9 1158.8,479.3 1159.1,473 1159.3,486 1159.6,518.4 1159.9,516 1160.1,510.8 1160.4,494.9 1160.7,503.1 1161,499.4 1161.2,505.3 1161.5,484.2 1161.8,505.4 1162,518.6 1162.3,523.1 1162.6,506.3 1162.8,537.7 1163.1,509.1 1163.4,500.2 1163.6,496.7 1163.9,500.7 1164.2,515.9 1164.5,481.4 1164.7,508.3 1165,487 1165.3,510.3 1165.5,535.9 1165.8,499.7 1166.1,477.9 1166.3,509.6 1166.6,487.2 1166.9,480.3 1167.2,529.5 1167.4,573.1 1167.7,507.4 1168,468.2 1168.2,440.6 1168.5,498.1 1168.8,538.9 1169,566.3 1169.3,550.6 1169.6,448.4 1169.9,454.9 1170.1,499 1170.4,551.4 1170.7,546.8 1170.9,539.2 1171.2,477.5 1171.5,494.9 1171.8,521.3 1172,482.7 1172.3,504.8 1172.6,479.6 1172.8,491.7 1173.1,482.3 1173.4,516.6 1173.6,546 1173.9,518.5 1174.2,498.1 1174.4,487.7 1174.7,483.2 1175,535.8 1175.3,502.1 1175.5,514.1 1175.8,516.9 1176.1,523.6 1176.3,522.4 1176.6,496.6 1176.9,449.5 1177.2,485.2 1177.4,528 1177.7,545.5 1178,525.3 1178.2,480.5 1178.5,456.2 1178.8,487.8 1179,539.9 1179.3,562.7 1179.6,530.1 1179.8,486.2 1180.1,497.1 1180.4,501.7 1180.7,530.6 1180.9,510.8 1181.2,516.2 1181.5,463.2 1181.7,476.1 1182,463.8 1182.3,512.4 1182.5,522.4 1182.8,507.5 1183.1,496.1 1183.4,477.6 1183.6,512.7 1183.9,496.4 1184.2,473.8 1184.4,491.1 1184.7,499.6 1185,514.6 1185.2,527.3 1185.5,508.8 1185.8,481.5 1186.1,498.1 1186.3,513.6 1186.6,518 1186.9,512.5 1187.1,478.4 1187.4,508.1 1187.7,500.9 1187.9,507.7 1188.2,511.2 1188.5,522.8 1188.8,512.6 1189,489.1 1189.3,499.1 1189.6,494.1 1189.8,510 1190.1,510.4 1190.4,516.7 1190.6,500.9 1190.9,508.8 1191.2,517.4 1191.5,518.7 1191.7,519.8 1192,518 1192.3,504.5 1192.5,491.8 1192.8,511.7 1193.1,503.7 1193.3,506.3 1193.6,516.6 1193.9,523 1194.2,509.2 1194.4,495.8 1194.7,493.2 1195,497.7 1195.2,511.8 1195.5,532.9 1195.8,521.5 1196,507.9 1196.3,481.8 1196.6,497.4 1196.9,498.6 1197.1,510.2 1197.4,533.9 1197.7,527.9 1197.9,503 1198.2,493.6 1198.5,499.9 1198.7,510.5 1199,532.1 1199.3,497.8 1199.6,514.6 1199.8,479.6 1200.1,503.2 1200.4,528.8 1200.6,506.4 1200.9,510.1 1201.2,499.9 1201.5,491.1 1201.7,484.6 1202,486 1202.3,500.3 1202.5,544.6 1202.8,546.7 1203.1,513 1203.3,487.1 1203.6,465.1 1203.9,513.6 1204.1,549.7 1204.4,509.7 1204.7,481 1205,518.8 1205.2,526.3 1205.5,532.7 1205.8,490.1 1206,473.3 1206.3,461.1 1206.6,489.8 1206.8,501.8 1207.1,555.1 1207.4,516.2 1207.7,488 1207.9,502.7 1208.2,471.7 1208.5,474.1 1208.7,498.1 1209,503.8 1209.3,509.4 1209.5,476.1 1209.8,503.5 1210.1,497.7 1210.4,542.5 1210.6,532.1 1210.9,527.8 1211.2,497.5 1211.4,496.8 1211.7,506.9 1212,504.2 1212.2,503.9 1212.5,499.7 1212.8,540.5 1213.1,524.2 1213.3,507.4 1213.6,484.4 1213.9,464.9 1214.1,484.5 1214.4,520.7 1214.7,523.7 1214.9,508.7 1215.2,490.5 1215.5,485.6 1215.8,511.6 1216,511.4 1216.3,520.1 1216.6,518.5 1216.8,505.4 1217.1,516.3 1217.4,515.8 1217.7,524.2 1217.9,514 1218.2,499.3 1218.5,477.2 1218.7,476.9 1219,510.9 1219.3,544.4 1219.5,542.7 1219.8,520.2 1220.1,511.2 1220.3,513.1 1220.6,501.4 1220.9,518.2 1221.2,534.3 1221.4,516.3 1221.7,498 1222,526.5 1222.2,509.6 1222.5,514.5 1222.8,506.9 1223,492.1 1223.3,525.8 1223.6,556.7 1223.9,514.4 1224.1,496.7 1224.4,456 1224.7,495.4 1224.9,503.7 1225.2,548.4 1225.5,539.5 1225.8,492.8 1226,486.2 1226.3,483.4 1226.6,511.5 1226.8,541.9 1227.1,531.1 1227.4,520.4 1227.6,509.3 1227.9,494.4 1228.2,496.9 1228.4,518 1228.7,502.8 1229,507.3 1229.3,497.8 1229.5,497 1229.8,520.9 1230.1,481 1230.3,510.9 1230.6,494.4 1230.9,493.1 1231.1,505.8 1231.4,515.3 1231.7,530.2 1232,514.9 1232.2,499.1 1232.5,480.6 1232.8,514.1 1233,490.8 1233.3,489.8 1233.6,503.9 1233.9,532.1 1234.1,534 1234.4,542.7 1234.7,489 1234.9,470.5 1235.2,493 1235.5,504.8 1235.7,525.5 1236,534 1236.3,492.4 1236.5,506.7 1236.8,469.2 1237.1,519.6 1237.4,501.1 1237.6,499.5 1237.9,510.7 1238.2,508.7 1238.4,509 1238.7,504.4 1239,479.3 1239.2,500.7 1239.5,498 1239.8,471.4 1240.1,511.1 1240.3,523.8 1240.6,519.8 1240.9,559.4 1241.1,523 1241.4,460.3 1241.7,510.6 1242,482.1 1242.2,556.3 1242.5,535.3 1242.8,512.6 1243,487.4 1243.3,501.3 1243.6,534.4 1243.8,524.6 1244.1,491.7 1244.4,535.8 1244.6,515.4 1244.9,534.8 1245.2,506.8 1245.5,488.6 1245.7,540.6 1246,486.5 1246.3,490.9 1246.5,522.8 1246.8,518.5 1247.1,527 1247.3,519.2 1247.6,514.6 1247.9,496.4 1248.2,481.6 1248.4,493.8 1248.7,492.9 1249,471.6 1249.2,561.8 1249.5,561.8 1249.8,536.7 1250,469.2 1250.3,478.6 1250.6,467.5 1250.9,525.1 1251.1,535.3 1251.4,524.2 1251.7,512 1251.9,494.6 1252.2,512.9 1252.5,504.8 1252.8,507.3 1253,516.5 1253.3,504.9 1253.6,503.8 1253.8,522.1 1254.1,483.2 1254.4,489.8 1254.6,506.8 1254.9,512.3 1255.2,528.7 1255.4,537 1255.7,494 1256,469.5 1256.3,483.6 1256.5,503.7 1256.8,536.8 1257.1,531.7 1257.3,496 1257.6,493.6 1257.9,472.4 1258.2,496.7 1258.4,515.6 1258.7,514 1259,527.8 1259.2,517.9 1259.5,483.9 1259.8,511.7 1260,503.4 1260.3,540.7 1260.6,518 1260.8,491.8 1261.1,493.3 1261.4,507.6 1261.7,497.9 1261.9,484.1 1262.2,516.1 1262.5,515.6 1262.7,532.1 1263,530.5 1263.3,456.2 1263.5,493.2 1263.8,506.1 1264.1,512 1264.4,520.8 1264.6,519.9 1264.9,495.3 1265.2,489.2 1265.4,482.8 1265.7,524.1 1266,501.8 1266.2,514.6 1266.5,512.5 1266.8,498.2 1267.1,468.4 1267.3,514.6 1267.6,522.2 1267.9,507.8 1268.1,511.2 1268.4,531.6 1268.7,510.1 1268.9,498.4 1269.2,486.3 1269.5,521.9 1269.8,508.2 1270,503.8 1270.3,493.7 1270.6,493.9 1270.8,502.1 1271.1,506.2 1271.4,511 1271.6,496.2 1271.9,484.8 1272.2,505.5 1272.5,499.5 1272.7,517.3 1273,520.2 1273.3,498.7 1273.5,471.4 1273.8,474.2 1274.1,539.4 1274.4,506.7 1274.6,519.2 1274.9,502.3 1275.2,502.2 1275.4,519.8 1275.7,542.2 1276,523.3 1276.2,487.7 1276.5,516.6 1276.8,530.7 1277,532.1 1277.3,526.7 1277.6,494.7 1277.9,532.7 1278.1,517.9 1278.4,510.6 1278.7,491.5 1278.9,496.9 1279.2,487.4 1279.5,507.8 1279.7,511.8 1280,510.7 1280.3,523.8 1280.6,487.3 1280.8,472.2 1281.1,504.3 1281.4,532.7 1281.6,517.5 1281.9,509.6 1282.2,470.7 1282.5,501.3 1282.7,500.3 1283,525.7 1283.3,518 1283.5,501 1283.8,507.7 1284.1,506.9 1284.3,535.1 1284.6,498.6 1284.9,491.2 1285.1,498.3 1285.4,501.1 1285.7,500.6 1286,511.5 1286.2,521.6 1286.5,490.8 1286.8,494.9 1287,497.3 1287.3,492.6 1287.6,504.5 1287.8,534.4 1288.1,522.4 1288.4,507.7 1288.7,501.5 1288.9,505 1289.2,538.6 1289.5,512 1289.7,496.7 1290,485.8 1290.3,518.6 1290.5,529.5 1290.8,537.5 1291.1,519.1 1291.4,485.6 1291.6,470.6 1291.9,522 1292.2,511.1 1292.4,488.4 1292.7,509.4 1293,506.7 1293.2,530.1 1293.5,522.3 1293.8,482.8 1294.1,490.4 1294.3,521.2 1294.6,505 1294.9,508.4 1295.1,508.9 1295.4,522.4 1295.7,511.2 1295.9,523.8 1296.2,490.6 1296.5,469.5 1296.8,507.1 1297,512"/>
<polyline fill="none" stroke="#cdcd00" stroke-width="2.2" stroke-linejoin="round" points="325.3,505.2 326.6,506.7 328,509.6 329.4,508.3 330.7,504.2 332,505.9 333.4,508.9 334.8,505.5 336.1,505.3 337.5,507.9 338.8,507.7 340.1,506.6 341.5,506.5 342.9,508.2 344.2,506.5 345.6,505.1 346.9,506.6 348.2,505.2 349.6,507.9 351,510 352.3,507.3 353.6,504 355,506.1 356.4,507.3 357.7,508.2 359.1,507 360.4,505.2 361.8,506.9 363.1,506.9 364.4,508.2 365.8,506.7 367.1,504.9 368.5,506.7 369.9,508.8 371.2,505.5 372.5,507.1 373.9,506.1 375.2,507.6 376.6,507.3 377.9,506.1 379.3,507 380.6,506.9 382,505.5 383.4,506.7 384.7,507.6 386.1,507.1 387.4,506.3 388.8,506.6 390.1,506.9 391.4,508.4 392.8,506.1 394.1,506.4 395.5,505.2 396.9,509.5 398.2,506.6 399.5,504 400.9,507 402.2,508 403.6,506.8 405,507.3 406.3,508.1 407.6,507.4 409,506.5 410.4,505.3 411.7,504 413.1,508.3 414.4,507.8 415.8,507.7 417.1,507.6 418.4,507.4 419.8,503.6 421.2,506.5 422.5,507.6 423.8,505.1 425.2,507.5 426.6,508.4 427.9,507.1 429.2,505.3 430.6,508 431.9,508 433.3,507.3 434.6,504.5 436,504.8 437.4,507.1 438.7,510 440,507.7 441.4,505 442.8,504.7 444.1,507.9 445.5,507.6 446.8,507.9 448.1,508 449.5,505.9 450.9,505.2 452.2,503.7 453.6,507.8 454.9,511.8 456.3,506.5 457.6,505.8 458.9,503.8 460.3,506.3 461.6,510.2 463,507.2 464.4,503.7 465.7,507.5 467.1,510.4 468.4,505.9 469.7,506.4 471.1,503.4 472.5,507.9 473.8,505.8 475.1,508.4 476.5,508.3 477.8,507.5 479.2,505.7 480.6,505.1 481.9,509.4 483.2,505.7 484.6,504.5 485.9,509 487.3,506.6 488.7,506.4 490,506.5 491.4,505.2 492.7,509.9 494,506.8 495.4,503.5 496.8,507.9 498.1,508.3 499.4,506.2 500.8,506.7 502.1,508.1 503.5,506.3 504.9,505.3 506.2,505.6 507.6,509 508.9,508.1 510.2,506.6 511.6,504.9 513,507.4 514.3,507.6 515.6,506.4 517,506 518.3,507.8 519.7,507.6 521,504.1 522.4,508.4 523.8,508 525.1,504.8 526.4,506.3 527.8,506.7 529.2,508 530.5,508 531.9,508.2 533.2,504.9 534.5,503.7 535.9,508 537.2,507.9 538.6,506.7 540,504.5 541.3,507.6 542.6,510.9 544,510.7 545.4,502.1 546.7,502.8 548,506.2 549.4,508.3 550.8,506.6 552.1,509.7 553.5,505.1 554.8,506.8 556.1,507.6 557.5,508.7 558.8,505.3 560.2,504.2 561.5,507.9 562.9,507.6 564.2,507.4 565.6,505.2 566.9,507.5 568.3,507.6 569.7,509.2 571,504.7 572.3,505.1 573.7,507 575,507.4 576.4,508.5 577.8,507.4 579.1,503.8 580.5,505.8 581.8,508.2 583.1,506.2 584.5,507.3 585.8,509 587.2,505 588.5,504.2 589.9,509.3 591.2,505.7 592.6,504 594,511.9 595.3,508.1 596.6,504.3 598,504.2 599.4,508.3 600.7,506.7 602,508.7 603.4,505.3 604.8,507.4 606.1,504.8 607.5,507.2 608.8,506.6 610.1,506.6 611.5,504.7 612.8,509.9 614.2,511.3 615.5,505.2 616.9,503 618.2,507 619.6,507.4 621,508 622.3,507.6 623.7,506.3 625,506.7 626.3,504.9 627.7,505 629,509.5 630.4,509.6 631.8,505.8 633.1,504.2 634.5,505.9 635.8,507.6 637.1,508.1 638.5,508 639.9,506.6 641.2,505.2 642.5,506.9 643.9,507.2 645.2,506.8 646.6,506.5 648,506.7 649.3,505.3 650.6,507.3 652,508.8 653.3,508.1 654.7,506.4 656,507 657.4,504.4 658.8,505.5 660.1,506.8 661.5,509 662.8,507.2 664.2,505.7 665.5,507.1 666.8,507.5 668.2,507.7 669.5,505.2 670.9,504.4 672.2,508.5 673.6,508.8 675,504.4 676.3,507.8 677.7,506.5 679,507.6 680.3,507.6 681.7,504.6 683,507 684.4,508 685.8,506.8 687.1,505.9 688.5,507.8 689.8,505.4 691.1,506.6 692.5,508.9 693.8,505 695.2,506 696.5,508.3 697.9,507.3 699.2,508.4 700.6,503 702,506.1 703.3,507.7 704.7,508.6 706,508.2 707.3,506.4 708.7,505.6 710,505.8 711.4,504.8 712.8,507.3 714.1,505.6 715.4,510.5 716.8,508.7 718.2,504.6 719.5,505.6 720.9,507.2 722.2,510.1 723.5,502.9 724.9,505.8 726.2,510.9 727.6,507.4 729,505.6 730.3,505.2 731.6,505.6 733,508.1 734.3,510.1 735.7,505 737,503.2 738.4,513.9 739.8,504.2 741.1,502.3 742.5,504.9 743.8,509.7 745.2,513.6 746.5,502.9 747.8,503.7 749.2,508.3 750.5,509.2 751.9,507.4 753.2,503.1 754.6,505.9 755.9,509.3 757.3,506 758.7,506.9 760,507.1 761.4,506 762.7,509.1 764,506.6 765.4,503.8 766.8,505.7 768.1,507.8 769.5,506.9 770.8,510.4 772.1,508.5 773.5,501.4 774.8,508.1 776.2,509.3 777.5,502.7 778.9,507.1 780.2,508.3 781.6,510.8 783,506.7 784.3,500.8 785.7,506.1 787,509.4 788.3,508.9 789.7,505.2 791,503.5 792.4,510 793.8,508.4 795.1,503.9 796.4,508.1 797.8,507.9 799.2,506.8 800.5,505.3 801.9,505.7 803.2,507.5 804.5,507.5 805.9,507.1 807.2,506.7 808.6,505.9 810,507.8 811.3,506.4 812.6,506.3 814,507.9 815.3,506.7 816.7,504.7 818,507 819.4,507.5 820.8,508.9 822.1,509.4 823.5,503.3 824.8,503.4 826.2,508.6 827.5,507.9 828.8,508.2 830.2,504.8 831.5,507.8 832.9,508 834.2,505.8 835.6,504.9 836.9,508.1 838.3,508.4 839.7,506.2 841,504.3 842.4,505.2 843.7,509.4 845,508.7 846.4,503.5 847.8,507.3 849.1,508.6 850.5,509.6 851.8,506.1 853.2,502.1 854.5,506.6 855.8,508.8 857.2,507.2 858.5,507.1 859.9,504.2 861.2,508.9 862.6,508.5 864,504.6 865.3,505.4 866.6,508.9 868,508.8 869.3,506.2 870.7,504.5 872,507.5 873.4,506.2 874.8,505.9 876.1,507.5 877.5,508 878.8,506.6 880.2,508.6 881.5,505.6 882.8,505.7 884.2,505.4 885.5,508.7 886.9,509.2 888.2,505.8 889.6,505.7 891,506.1 892.3,506.1 893.7,507.5 895,507.2 896.3,506.4 897.7,508.8 899,506.5 900.4,505.8 901.8,505.9 903.1,506 904.5,506.7 905.8,508.9 907.1,508 908.5,504.5 909.8,507.4 911.2,506.8 912.5,506.9 913.9,507.9 915.2,504.8 916.6,506.8 918,506.7 919.3,506.3 920.7,509.5 922,509 923.3,504.5 924.7,503.4 926,507.2 927.4,509.7 928.8,505.7 930.1,504.7 931.5,506.8 932.8,510.4 934.2,509.1 935.5,504.4 936.8,502.7 938.2,509.6 939.5,508 940.9,505.3 942.2,506.5 943.6,507.6 945,506.9 946.3,505.8 947.6,507 949,509 950.3,506.5 951.7,506.1 953,506.5 954.4,505.5 955.8,506 957.1,507.2 958.5,507.1 959.8,508 961.1,507.1 962.5,506.9 963.8,506.3 965.2,506.4 966.5,506.6 967.9,507.8 969.2,506.8 970.6,506 972,507.8 973.3,506.5 974.7,505.8 976,506.4 977.3,506 978.7,508.7 980,507.7 981.4,506.5 982.8,507.1 984.1,506.4 985.5,506.8 986.8,504 988.1,508.5 989.5,505.7 990.8,507.7 992.2,507.1 993.5,510.1 994.9,507.4 996.2,504.5 997.6,508.9 999,503.5 1000.3,503.8 1001.6,508.6 1003,509.6 1004.3,506.9 1005.7,506.6 1007,506.4 1008.4,505.4 1009.8,507.9 1011.1,507.1 1012.5,506.7 1013.8,507.5 1015.2,505.3 1016.5,508.1 1017.8,507.6 1019.2,504.9 1020.5,507.8 1021.9,505.6 1023.2,507.8 1024.6,507.1 1026,505.9 1027.3,508.2 1028.6,507.2 1030,504.1 1031.3,507.7 1032.7,506.9 1034,507.2 1035.4,506.2 1036.8,507.3 1038.1,507.3 1039.5,507.2 1040.8,505.3 1042.1,505.6 1043.5,506 1044.8,508.5 1046.2,509 1047.5,505.9 1048.9,506.2 1050.2,506 1051.6,506.9 1053,507.4 1054.3,506.9 1055.7,506.9 1057,506.3 1058.3,505.4 1059.7,508.6 1061,507.1 1062.4,507.1 1063.8,506 1065.1,505.8 1066.5,506.8 1067.8,507.6 1069.1,508.8 1070.5,504.2 1071.8,505.5 1073.2,509 1074.5,508.2 1075.9,506.1 1077.2,506.5 1078.6,507.4 1080,504.2 1081.3,507.3 1082.6,508.2 1084,506.5 1085.3,505.9 1086.7,508.3 1088,506.5 1089.4,504.8 1090.8,508.7 1092.1,506.8 1093.5,507.9 1094.8,503.9 1096.2,507.3 1097.5,506.8 1098.8,508.3 1100.2,508.4 1101.5,505.9 1102.9,505.2 1104.2,506.2 1105.6,505.9 1107,506.7 1108.3,509.7 1109.6,509 1111,505.9 1112.3,506.2 1113.7,505.1 1115,506.8 1116.4,507.1 1117.8,506.5 1119.1,508.1 1120.5,508.7 1121.8,506.9 1123.1,506.5 1124.5,502.3 1125.8,505.6 1127.2,509.8 1128.5,508.6 1129.9,506.3 1131.2,506.6 1132.6,505.7 1133.9,506.3 1135.3,506.4 1136.7,510.1 1138,507.5 1139.3,505.6 1140.7,504.6 1142,504.2 1143.4,509.1 1144.8,506.7 1146.1,506.8 1147.5,507.5 1148.8,506.7 1150.1,506.8 1151.5,507.9 1152.8,506.6 1154.2,505.8 1155.5,507.8 1156.9,505.1 1158.2,506 1159.6,507.1 1161,507.1 1162.3,510.4 1163.6,505 1165,508.9 1166.3,504.9 1167.7,504.4 1169,507.8 1170.4,506.4 1171.8,504 1173.1,511.5 1174.4,510.8 1175.8,504.9 1177.2,504.3 1178.5,505.3 1179.8,507.3 1181.2,507.1 1182.5,507.1 1183.9,506.6 1185.2,507.5 1186.6,508.4 1187.9,506 1189.3,503.5 1190.6,511.1 1192,506.5 1193.3,503.2 1194.7,506.6 1196,509.4 1197.4,508.5 1198.7,506.1 1200.1,505 1201.5,506.4 1202.8,506.6 1204.1,508.7 1205.5,507.2 1206.8,505.6 1208.2,507.4 1209.5,507.1 1210.9,506.9 1212.2,505.4 1213.6,507.3 1214.9,506.9 1216.3,506 1217.7,507.1 1219,506.7 1220.3,507.3 1221.7,507.6 1223,507.6 1224.4,506 1225.8,504.2 1227.1,508.6 1228.4,507.8 1229.8,506.5 1231.1,505.7 1232.5,506.2 1233.9,508.5 1235.2,505.7 1236.5,506.7 1237.9,508.3 1239.2,507.2 1240.6,506.2 1242,502.6 1243.3,506.8 1244.6,509.1 1246,511.9 1247.3,505.8 1248.7,504 1250,504.7 1251.4,507 1252.8,506.8 1254.1,509.7 1255.4,507.2 1256.8,502 1258.2,508.7 1259.5,510.6 1260.8,503.9 1262.2,506.1 1263.5,505.7 1264.9,507.4 1266.2,508.6 1267.6,506.9 1268.9,506.4 1270.3,506.2 1271.6,507.2 1273,507.4 1274.4,505.7 1275.7,505.8 1277,507.8 1278.4,508.2 1279.7,505.3 1281.1,505.8 1282.5,508.4 1283.8,507.4 1285.1,506.1 1286.5,505.8 1287.8,507.4 1289.2,507.9 1290.5,505.7 1291.9,506.2 1293.2,508.5 1294.6,507.2 1295.9,505.8"/>
<g stroke="#bebebe" stroke-width="2.2" fill="none"><line x1="211.9" y1="427.6" x2="211.9" y2="586"/><line x1="204.9" y1="427.6" x2="218.9" y2="427.6"/><line x1="204.9" y1="586" x2="218.9" y2="586"/></g>
<circle cx="211.9" cy="506.8" r="4" fill="#000"/>
<text transform="translate(244,506.8) rotate(-90)" text-anchor="middle" font-size="24">Typical noise level</text>
<rect x="163.3" y="110.8" width="1296" height="792" fill="none" stroke="#000" stroke-width="2.5"/>
<path d="M163.3 902.8v11.5M163.3 110.8v-11.5M179.5 902.8v5.8M179.5 110.8v-5.8M195.7 902.8v5.8M195.7 110.8v-5.8M211.9 902.8v5.8M211.9 110.8v-5.8M228.1 902.8v5.8M228.1 110.8v-5.8M244.3 902.8v5.8M244.3 110.8v-5.8M260.5 902.8v5.8M260.5 110.8v-5.8M276.7 902.8v5.8M276.7 110.8v-5.8M292.9 902.8v5.8M292.9 110.8v-5.8M309.1 902.8v5.8M309.1 110.8v-5.8M325.3 902.8v11.5M325.3 110.8v-11.5M341.5 902.8v5.8M341.5 110.8v-5.8M357.7 902.8v5.8M357.7 110.8v-5.8M373.9 902.8v5.8M373.9 110.8v-5.8M390.1 902.8v5.8M390.1 110.8v-5.8M406.3 902.8v5.8M406.3 110.8v-5.8M422.5 902.8v5.8M422.5 110.8v-5.8M438.7 902.8v5.8M438.7 110.8v-5.8M454.9 902.8v5.8M454.9 110.8v-5.8M471.1 902.8v5.8M471.1 110.8v-5.8M487.3 902.8v11.5M487.3 110.8v-11.5M503.5 902.8v5.8M503.5 110.8v-5.8M519.7 902.8v5.8M519.7 110.8v-5.8M535.9 902.8v5.8M535.9 110.8v-5.8M552.1 902.8v5.8M552.1 110.8v-5.8M568.3 902.8v5.8M568.3 110.8v-5.8M584.5 902.8v5.8M584.5 110.8v-5.8M600.7 902.8v5.8M600.7 110.8v-5.8M616.9 902.8v5.8M616.9 110.8v-5.8M633.1 902.8v5.8M633.1 110.8v-5.8M649.3 902.8v11.5M649.3 110.8v-11.5M665.5 902.8v5.8M665.5 110.8v-5.8M681.7 902.8v5.8M681.7 110.8v-5.8M697.9 902.8v5.8M697.9 110.8v-5.8M714.1 902.8v5.8M714.1 110.8v-5.8M730.3 902.8v5.8M730.3 110.8v-5.8M746.5 902.8v5.8M746.5 110.8v-5.8M762.7 902.8v5.8M762.7 110.8v-5.8M778.9 902.8v5.8M778.9 110.8v-5.8M795.1 902.8v5.8M795.1 110.8v-5.8M811.3 902.8v11.5M811.3 110.8v-11.5M827.5 902.8v5.8M827.5 110.8v-5.8M843.7 902.8v5.8M843.7 110.8v-5.8M859.9 902.8v5.8M859.9 110.8v-5.8M876.1 902.8v5.8M876.1 110.8v-5.8M892.3 902.8v5.8M892.3 110.8v-5.8M908.5 902.8v5.8M908.5 110.8v-5.8M924.7 902.8v5.8M924.7 110.8v-5.8M940.9 902.8v5.8M940.9 110.8v-5.8M957.1 902.8v5.8M957.1 110.8v-5.8M973.3 902.8v11.5M973.3 110.8v-11.5M989.5 902.8v5.8M989.5 110.8v-5.8M1005.7 902.8v5.8M1005.7 110.8v-5.8M1021.9 902.8v5.8M1021.9 110.8v-5.8M1038.1 902.8v5.8M1038.1 110.8v-5.8M1054.3 902.8v5.8M1054.3 110.8v-5.8M1070.5 902.8v5.8M1070.5 110.8v-5.8M1086.7 902.8v5.8M1086.7 110.8v-5.8M1102.9 902.8v5.8M1102.9 110.8v-5.8M1119.1 902.8v5.8M1119.1 110.8v-5.8M1135.3 902.8v11.5M1135.3 110.8v-11.5M1151.5 902.8v5.8M1151.5 110.8v-5.8M1167.7 902.8v5.8M1167.7 110.8v-5.8M1183.9 902.8v5.8M1183.9 110.8v-5.8M1200.1 902.8v5.8M1200.1 110.8v-5.8M1216.3 902.8v5.8M1216.3 110.8v-5.8M1232.5 902.8v5.8M1232.5 110.8v-5.8M1248.7 902.8v5.8M1248.7 110.8v-5.8M1264.9 902.8v5.8M1264.9 110.8v-5.8M1281.1 902.8v5.8M1281.1 110.8v-5.8M1297.3 902.8v11.5M1297.3 110.8v-11.5M1313.5 902.8v5.8M1313.5 110.8v-5.8M1329.7 902.8v5.8M1329.7 110.8v-5.8M1345.9 902.8v5.8M1345.9 110.8v-5.8M1362.1 902.8v5.8M1362.1 110.8v-5.8M1378.3 902.8v5.8M1378.3 110.8v-5.8M1394.5 902.8v5.8M1394.5 110.8v-5.8M1410.7 902.8v5.8M1410.7 110.8v-5.8M1426.9 902.8v5.8M1426.9 110.8v-5.8M1443.1 902.8v5.8M1443.1 110.8v-5.8M1459.3 902.8v11.5M1459.3 110.8v-11.5M163.3 902.8h-11.5M163.3 863.2h-5.8M163.3 823.6h-11.5M163.3 784h-5.8M163.3 744.4h-11.5M163.3 704.8h-5.8M163.3 665.2h-11.5M163.3 625.6h-5.8M163.3 586h-11.5M163.3 546.4h-5.8M163.3 506.8h-11.5M163.3 467.2h-5.8M163.3 427.6h-11.5M163.3 388h-5.8M163.3 348.4h-11.5M163.3 308.8h-5.8M163.3 269.2h-11.5M163.3 229.6h-5.8M163.3 190h-11.5M163.3 150.4h-5.8M163.3 110.8h-11.5M1459.3 902.8h11.5M1459.3 889.6h5.8M1459.3 876.4h5.8M1459.3 863.2h5.8M1459.3 850h5.8M1459.3 836.8h11.5M1459.3 823.6h5.8M1459.3 810.4h5.8M1459.3 797.2h5.8M1459.3 784h5.8M1459.3 770.8h11.5M1459.3 757.6h5.8M1459.3 744.4h5.8M1459.3 731.2h5.8M1459.3 718h5.8M1459.3 704.8h11.5M1459.3 691.6h5.8M1459.3 678.4h5.8M1459.3 665.2h5.8M1459.3 652h5.8M1459.3 638.8h11.5M1459.3 625.6h5.8M1459.3 612.4h5.8M1459.3 599.2h5.8M1459.3 586h5.8M1459.3 572.8h11.5M1459.3 559.6h5.8M1459.3 546.4h5.8M1459.3 533.2h5.8M1459.3 520h5.8M1459.3 445.9h11.5M1459.3 385h11.5M1459.3 324h11.5M1459.3 263.1h11.5M1459.3 202.2h11.5M1459.3 141.3h11.5" stroke="#000" stroke-width="1.1" fill="none"/>
<path d="M1459.3 500.7h5.8M1459.3 494.6h5.8M1459.3 488.5h5.8M1459.3 482.4h5.8M1459.3 476.3h5.8M1459.3 470.2h5.8M1459.3 464.2h5.8M1459.3 458.1h5.8M1459.3 452h5.8M1459.3 445.9h5.8M1459.3 439.8h5.8M1459.3 433.7h5.8M1459.3 427.6h5.8M1459.3 421.5h5.8M1459.3 415.4h5.8M1459.3 409.3h5.8M1459.3 403.2h5.8M1459.3 397.1h5.8M1459.3 391h5.8M1459.3 385h5.8M1459.3 378.9h5.8M1459.3 372.8h5.8M1459.3 366.7h5.8M1459.3 360.6h5.8M1459.3 354.5h5.8M1459.3 348.4h5.8M1459.3 342.3h5.8M1459.3 336.2h5.8M1459.3 330.1h5.8M1459.3 324h5.8M1459.3 317.9h5.8M1459.3 311.8h5.8M1459.3 305.8h5.8M1459.3 299.7h5.8M1459.3 293.6h5.8M1459.3 287.5h5.8M1459.3 281.4h5.8M1459.3 275.3h5.8M1459.3 269.2h5.8M1459.3 263.1h5.8M1459.3 257h5.8M1459.3 250.9h5.8M1459.3 244.8h5.8M1459.3 238.7h5.8M1459.3 232.6h5.8M1459.3 226.6h5.8M1459.3 220.5h5.8M1459.3 214.4h5.8M1459.3 208.3h5.8M1459.3 202.2h5.8M1459.3 196.1h5.8M1459.3 190h5.8M1459.3 183.9h5.8M1459.3 177.8h5.8M1459.3 171.7h5.8M1459.3 165.6h5.8M1459.3 159.5h5.8M1459.3 153.4h5.8M1459.3 147.4h5.8M1459.3 141.3h5.8M1459.3 135.2h5.8M1459.3 129.1h5.8M1459.3 123h5.8M1459.3 116.9h5.8M1459.3 110.8h5.8" stroke="#000" stroke-width="1.65" fill="none"/>
<g font-size="28">
<text x="163.3" y="947" text-anchor="middle">−10</text>
<text x="325.3" y="947" text-anchor="middle">0</text>
<text x="487.3" y="947" text-anchor="middle">10</text>
<text x="649.3" y="947" text-anchor="middle">20</text>
<text x="811.3" y="947" text-anchor="middle">30</text>
<text x="973.3" y="947" text-anchor="middle">40</text>
<text x="1135.3" y="947" text-anchor="middle">50</text>
<text x="1297.3" y="947" text-anchor="middle">60</text>
<text x="1459.3" y="947" text-anchor="middle">70</text>
<text x="141" y="912.8" text-anchor="end">−100</text>
<text x="141" y="833.6" text-anchor="end">−80</text>
<text x="141" y="754.4" text-anchor="end">−60</text>
<text x="141" y="675.2" text-anchor="end">−40</text>
<text x="141" y="596" text-anchor="end">−20</text>
<text x="141" y="516.8" text-anchor="end">0</text>
<text x="141" y="437.6" text-anchor="end">20</text>
<text x="141" y="358.4" text-anchor="end">40</text>
<text x="141" y="279.2" text-anchor="end">60</text>
<text x="141" y="200" text-anchor="end">80</text>
<text x="141" y="120.8" text-anchor="end">100</text>
<text x="1545" y="455.9" text-anchor="end">980</text>
<text x="1545" y="395" text-anchor="end">990</text>
<text x="1545" y="334" text-anchor="end">1000</text>
<text x="1545" y="273.1" text-anchor="end">1010</text>
<text x="1545" y="212.2" text-anchor="end">1020</text>
<text x="1545" y="151.3" text-anchor="end">1030</text>
<text x="1560" y="912.8" text-anchor="end">−1500</text>
<text x="1560" y="846.8" text-anchor="end">−1000</text>
<text x="1560" y="780.8" text-anchor="end">−500</text>
<text x="1560" y="714.8" text-anchor="end">0</text>
<text x="1560" y="648.8" text-anchor="end">500</text>
<text x="1560" y="582.8" text-anchor="end">1000</text>
</g>
<text x="812" y="1000" text-anchor="middle" font-size="36.15">Time [min] from 2019−04−14 09:00:00 UTC</text>
<text transform="translate(50,506.8) rotate(-90)" text-anchor="middle" font-size="36">Obs’d Gravity [nm/s<tspan font-size="25" dy="-13">2</tspan><tspan dy="13">]</tspan></text>
<text transform="translate(1598.5,308.8) rotate(-90)" text-anchor="middle" font-size="36">Pressure [hPa]</text>
<text transform="translate(1616,704.8) rotate(-90)" text-anchor="middle" font-size="36">Tide [nm/s<tspan font-size="25" dy="-13">2</tspan><tspan dy="13">]</tspan></text>
<text class="b" transform="translate(559.8,82.6) scale(1,1.075)" font-size="32.35">SCG_054 gravimeter Onsala Space Observatory, Sweden</text>
<text class="b" transform="translate(191.9,887.9) scale(1,1.075)" font-size="28">The latest 1−hour, 1−second sampling</text>
<text class="b" transform="translate(1430.6,887.9) scale(1,1.075)" font-size="27.9" text-anchor="end">End at 2019−04−14 09:59:59 UTC</text>
<rect x="166.9" y="18.5" width="373.1" height="163.1" fill="#fff" stroke="#8a8a8a" stroke-width="1.15"/>
<line x1="204" y1="39.4" x2="260" y2="39.4" stroke="#0000ff" stroke-width="0.7"/>
<circle cx="232.2" cy="39.4" r="4.3" fill="#0000ff"/>
<text x="279.5" y="48.0" font-size="24">Pressure</text>
<line x1="204" y1="69.6" x2="260" y2="69.6" stroke="#00cdcd" stroke-width="0.7"/>
<circle cx="232.2" cy="69.6" r="4.3" fill="#00cdcd"/>
<text x="279.5" y="78.19999999999999" font-size="24">100 P, band−passed</text>
<line x1="204" y1="100.3" x2="260" y2="100.3" stroke="#000" stroke-width="3"/>
<text x="279.5" y="108.89999999999999" font-size="24">Residual</text>
<line x1="204" y1="130.4" x2="260" y2="130.4" stroke="#bebebe" stroke-width="3"/>
<text x="279.5" y="139.0" font-size="24">... last 10 min.</text>
<line x1="204" y1="161.3" x2="260" y2="161.3" stroke="#ff0000" stroke-width="0.7"/>
<circle cx="232.2" cy="161.3" r="4.3" fill="#ff0000"/>
<text x="279.5" y="169.9" font-size="24">Theor.Tide</text>
</svg>
</body></html>
